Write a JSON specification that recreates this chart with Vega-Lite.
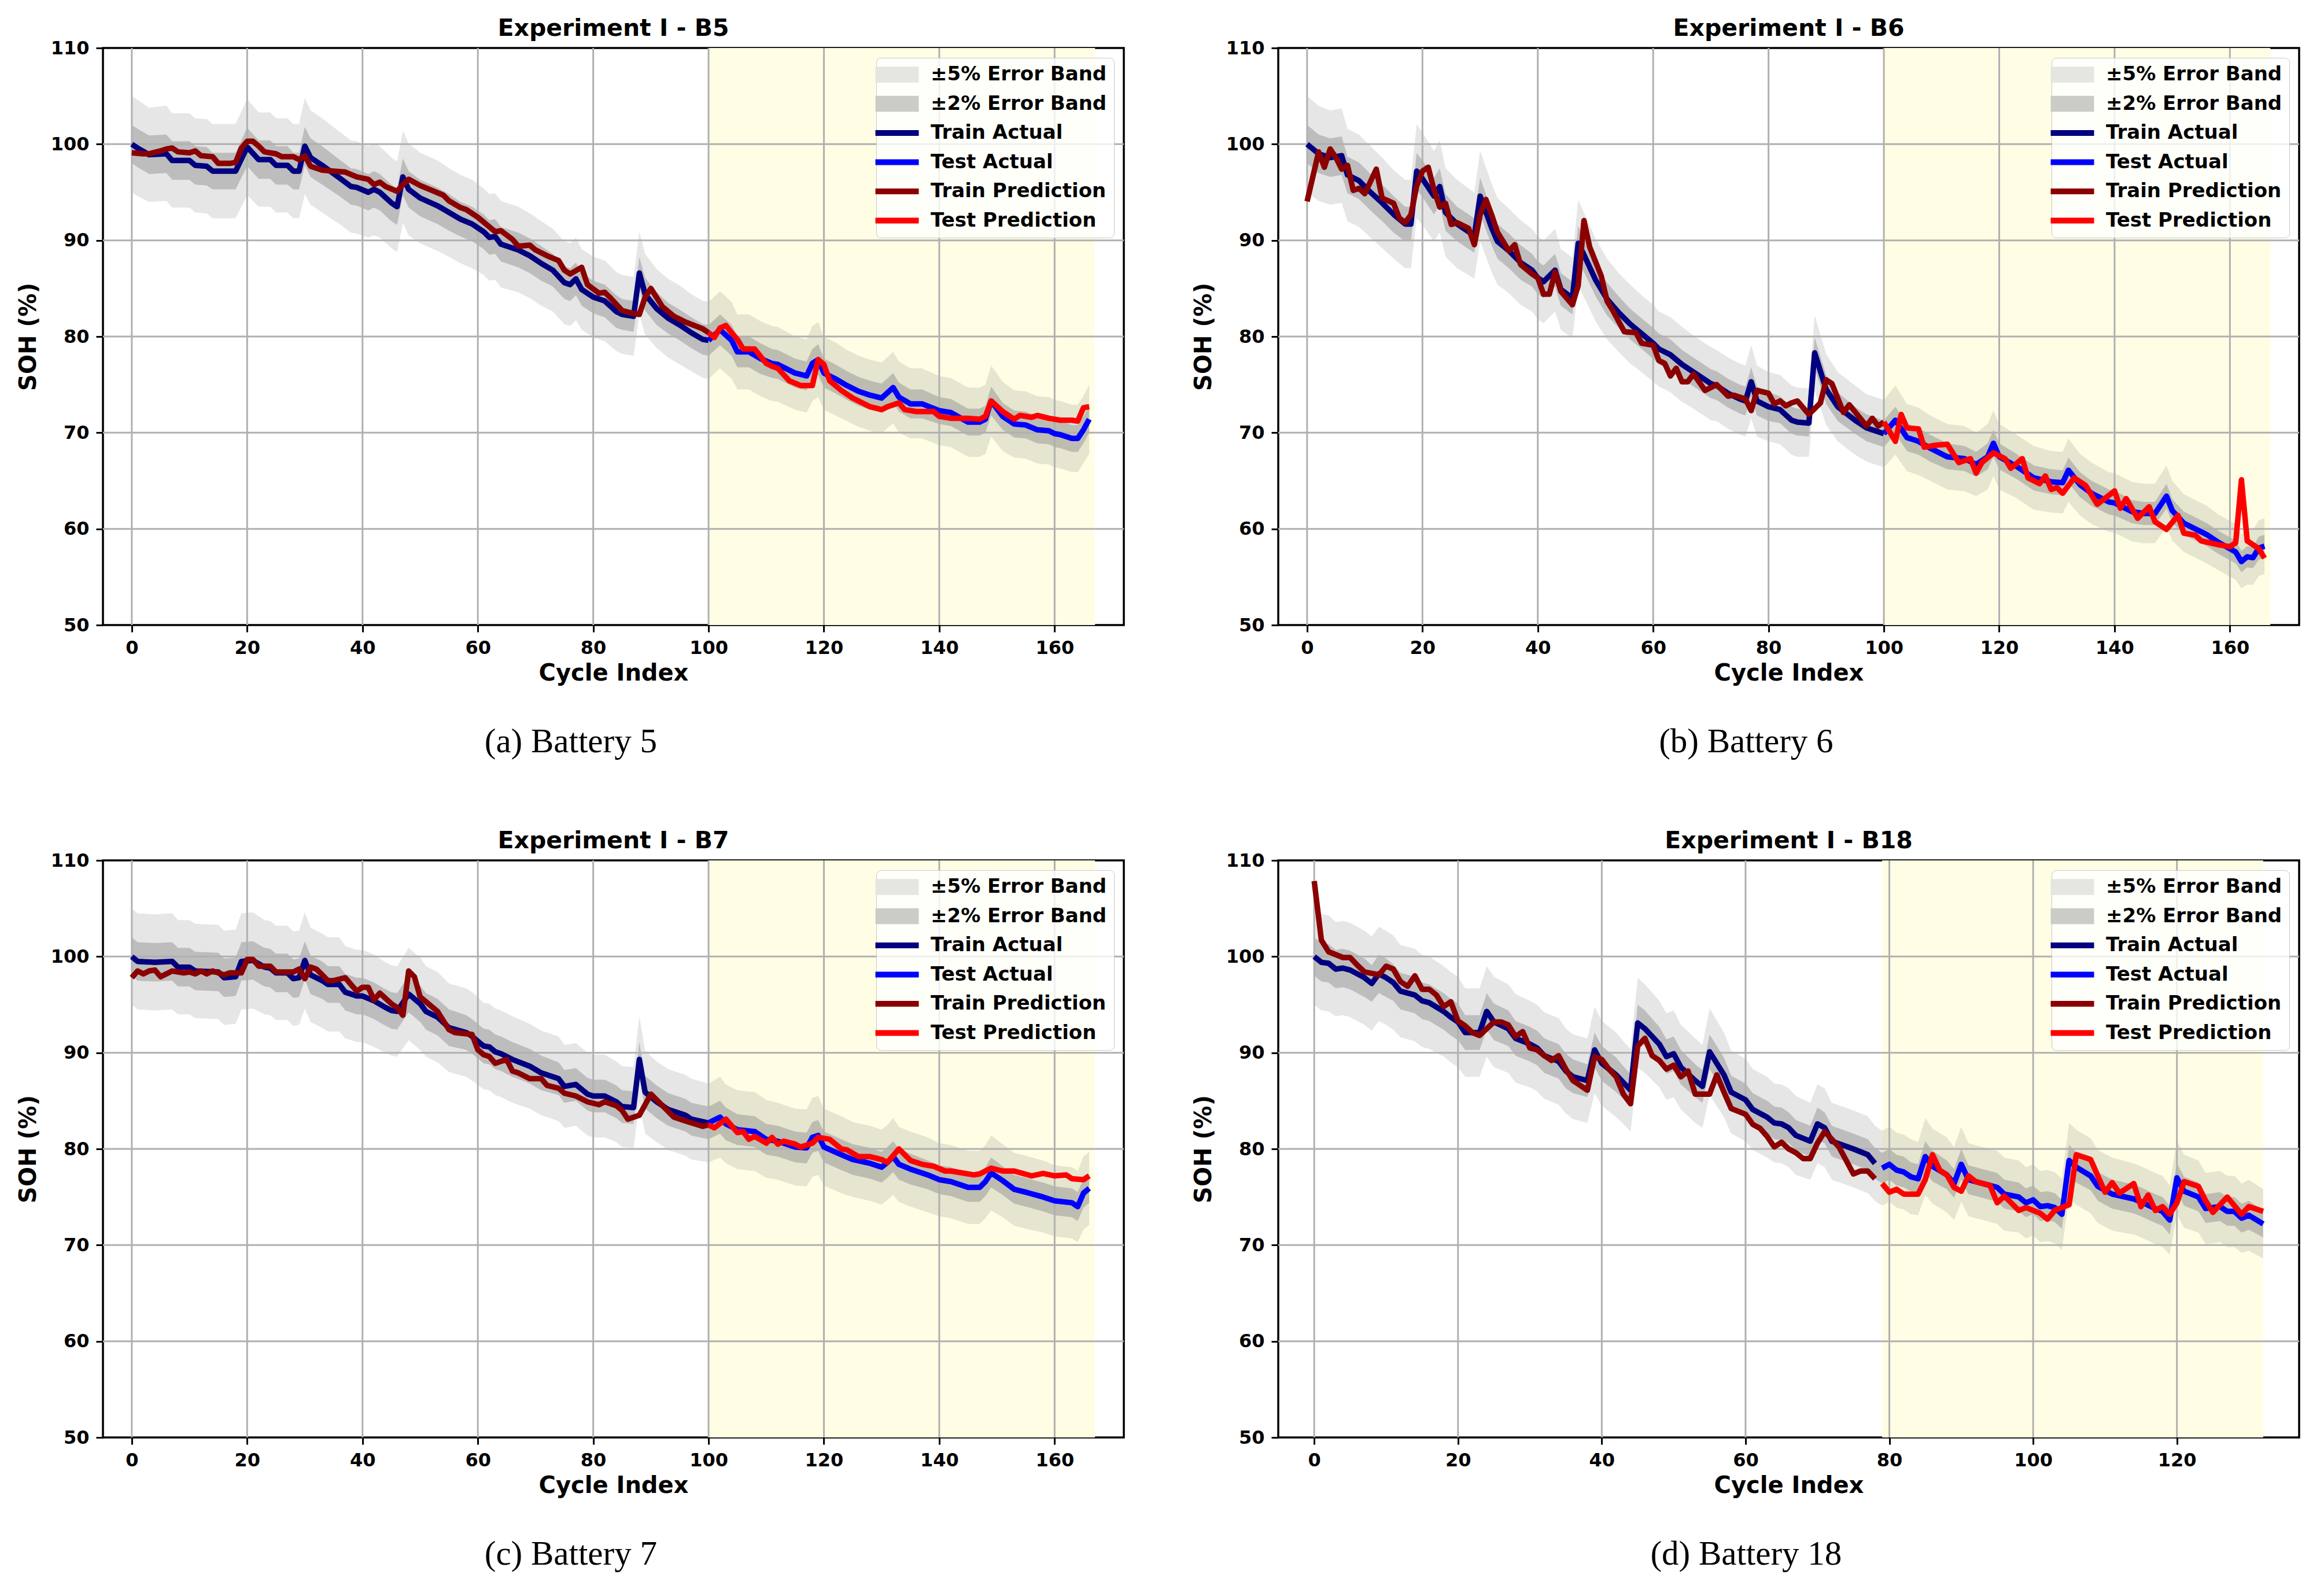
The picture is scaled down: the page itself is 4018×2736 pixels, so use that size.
{
  "$schema": "https://vega.github.io/schema/vega-lite/v6.json",
  "background": "white",
  "padding": {"left": 27, "top": 27, "right": 20, "bottom": 10},
  "config": {
    "view": {"stroke": "black", "strokeWidth": 3.5},
    "axis": {
      "grid": false, "domain": false,
      "labelFont": "DejaVu Sans", "labelFontWeight": "bold", "labelFontSize": 32, "labelColor": "black",
      "titleFont": "DejaVu Sans", "titleFontWeight": "bold", "titleFontSize": 40, "titleColor": "black",
      "tickColor": "black", "tickWidth": 3, "tickSize": 12, "labelPadding": 12
    },
    "title": {"font": "DejaVu Sans", "fontWeight": "bold", "fontSize": 41, "color": "black", "offset": -4, "anchor": "middle"},
    "legend": {
      "orient": "top-right", "offset": 17,
      "labelFont": "DejaVu Sans", "labelFontWeight": "bold", "labelFontSize": 34, "labelColor": "black",
      "rowPadding": 16.5, "padding": 12, "symbolStrokeWidth": 0,
      "fillColor": "rgba(255,255,255,0.8)", "strokeColor": "#c8c8c8", "cornerRadius": 8
    }
  },
  "datasets": {
    "gx": [{"g": 0}, {"g": 20}, {"g": 40}, {"g": 60}, {"g": 80}, {"g": 100}, {"g": 120}, {"g": 140}, {"g": 160}],
    "gx18": [{"g": 0}, {"g": 20}, {"g": 40}, {"g": 60}, {"g": 80}, {"g": 100}, {"g": 120}],
    "gy": [{"g": 60}, {"g": 70}, {"g": 80}, {"g": 90}, {"g": 100}],
    "b5": [
      {"c":0,"s":"Train Actual","v":100,"lo5":95,"hi5":105,"lo2":98,"hi2":102},
      {"c":1,"s":"Train Actual","v":99.6,"lo5":94.6,"hi5":104.6,"lo2":97.6,"hi2":101.6},
      {"c":3,"s":"Train Actual","v":98.9,"lo5":94,"hi5":103.8,"lo2":96.9,"hi2":100.9},
      {"c":6,"s":"Train Actual","v":99,"lo5":94.1,"hi5":104,"lo2":97,"hi2":101},
      {"c":7,"s":"Train Actual","v":98.3,"lo5":93.4,"hi5":103.2,"lo2":96.3,"hi2":100.3},
      {"c":10,"s":"Train Actual","v":98.3,"lo5":93.4,"hi5":103.2,"lo2":96.3,"hi2":100.3},
      {"c":11,"s":"Train Actual","v":97.8,"lo5":92.9,"hi5":102.7,"lo2":95.8,"hi2":99.8},
      {"c":13,"s":"Train Actual","v":97.7,"lo5":92.8,"hi5":102.6,"lo2":95.7,"hi2":99.7},
      {"c":14,"s":"Train Actual","v":97.2,"lo5":92.3,"hi5":102.1,"lo2":95.3,"hi2":99.1},
      {"c":18,"s":"Train Actual","v":97.2,"lo5":92.3,"hi5":102.1,"lo2":95.3,"hi2":99.1},
      {"c":20,"s":"Train Actual","v":99.7,"lo5":94.7,"hi5":104.7,"lo2":97.7,"hi2":101.7},
      {"c":22,"s":"Train Actual","v":98.4,"lo5":93.5,"hi5":103.3,"lo2":96.4,"hi2":100.4},
      {"c":24,"s":"Train Actual","v":98.4,"lo5":93.5,"hi5":103.3,"lo2":96.4,"hi2":100.4},
      {"c":25,"s":"Train Actual","v":97.8,"lo5":92.9,"hi5":102.7,"lo2":95.8,"hi2":99.8},
      {"c":27,"s":"Train Actual","v":97.8,"lo5":92.9,"hi5":102.7,"lo2":95.8,"hi2":99.8},
      {"c":28,"s":"Train Actual","v":97.2,"lo5":92.3,"hi5":102.1,"lo2":95.3,"hi2":99.1},
      {"c":29,"s":"Train Actual","v":97.2,"lo5":92.3,"hi5":102.1,"lo2":95.3,"hi2":99.1},
      {"c":30,"s":"Train Actual","v":99.8,"lo5":94.8,"hi5":104.8,"lo2":97.8,"hi2":101.8},
      {"c":31,"s":"Train Actual","v":98.6,"lo5":93.7,"hi5":103.5,"lo2":96.6,"hi2":100.6},
      {"c":33,"s":"Train Actual","v":97.8,"lo5":92.9,"hi5":102.7,"lo2":95.8,"hi2":99.8},
      {"c":36,"s":"Train Actual","v":96.5,"lo5":91.7,"hi5":101.3,"lo2":94.6,"hi2":98.4},
      {"c":38,"s":"Train Actual","v":95.6,"lo5":90.8,"hi5":100.4,"lo2":93.7,"hi2":97.5},
      {"c":39,"s":"Train Actual","v":95.5,"lo5":90.7,"hi5":100.3,"lo2":93.6,"hi2":97.4},
      {"c":41,"s":"Train Actual","v":95,"lo5":90.3,"hi5":99.8,"lo2":93.1,"hi2":96.9},
      {"c":42,"s":"Train Actual","v":95.3,"lo5":90.5,"hi5":100.1,"lo2":93.4,"hi2":97.2},
      {"c":43,"s":"Train Actual","v":95,"lo5":90.3,"hi5":99.8,"lo2":93.1,"hi2":96.9},
      {"c":45,"s":"Train Actual","v":93.9,"lo5":89.2,"hi5":98.6,"lo2":92,"hi2":95.8},
      {"c":46,"s":"Train Actual","v":93.5,"lo5":88.8,"hi5":98.2,"lo2":91.6,"hi2":95.4},
      {"c":47,"s":"Train Actual","v":96.6,"lo5":91.8,"hi5":101.4,"lo2":94.7,"hi2":98.5},
      {"c":48,"s":"Train Actual","v":95.3,"lo5":90.5,"hi5":100.1,"lo2":93.4,"hi2":97.2},
      {"c":50,"s":"Train Actual","v":94.4,"lo5":89.7,"hi5":99.1,"lo2":92.5,"hi2":96.3},
      {"c":53,"s":"Train Actual","v":93.6,"lo5":88.9,"hi5":98.3,"lo2":91.7,"hi2":95.5},
      {"c":55,"s":"Train Actual","v":92.9,"lo5":88.3,"hi5":97.5,"lo2":91,"hi2":94.8},
      {"c":57,"s":"Train Actual","v":92.2,"lo5":87.6,"hi5":96.8,"lo2":90.4,"hi2":94},
      {"c":59,"s":"Train Actual","v":91.7,"lo5":87.1,"hi5":96.3,"lo2":89.9,"hi2":93.5},
      {"c":61,"s":"Train Actual","v":90.9,"lo5":86.4,"hi5":95.4,"lo2":89.1,"hi2":92.7},
      {"c":62,"s":"Train Actual","v":90.3,"lo5":85.8,"hi5":94.8,"lo2":88.5,"hi2":92.1},
      {"c":63,"s":"Train Actual","v":90.4,"lo5":85.9,"hi5":94.9,"lo2":88.6,"hi2":92.2},
      {"c":64,"s":"Train Actual","v":89.6,"lo5":85.1,"hi5":94.1,"lo2":87.8,"hi2":91.4},
      {"c":67,"s":"Train Actual","v":89,"lo5":84.6,"hi5":93.5,"lo2":87.2,"hi2":90.8},
      {"c":69,"s":"Train Actual","v":88.4,"lo5":84,"hi5":92.8,"lo2":86.6,"hi2":90.2},
      {"c":71,"s":"Train Actual","v":87.6,"lo5":83.2,"hi5":92,"lo2":85.8,"hi2":89.4},
      {"c":73,"s":"Train Actual","v":86.9,"lo5":82.6,"hi5":91.2,"lo2":85.2,"hi2":88.6},
      {"c":75,"s":"Train Actual","v":85.6,"lo5":81.3,"hi5":89.9,"lo2":83.9,"hi2":87.3},
      {"c":76,"s":"Train Actual","v":85.4,"lo5":81.1,"hi5":89.7,"lo2":83.7,"hi2":87.1},
      {"c":77,"s":"Train Actual","v":86,"lo5":81.7,"hi5":90.3,"lo2":84.3,"hi2":87.7},
      {"c":78,"s":"Train Actual","v":84.9,"lo5":80.7,"hi5":89.1,"lo2":83.2,"hi2":86.6},
      {"c":80,"s":"Train Actual","v":84.1,"lo5":79.9,"hi5":88.3,"lo2":82.4,"hi2":85.8},
      {"c":82,"s":"Train Actual","v":83.7,"lo5":79.5,"hi5":87.9,"lo2":82,"hi2":85.4},
      {"c":84,"s":"Train Actual","v":82.6,"lo5":78.5,"hi5":86.7,"lo2":80.9,"hi2":84.3},
      {"c":85,"s":"Train Actual","v":82.3,"lo5":78.2,"hi5":86.4,"lo2":80.7,"hi2":83.9},
      {"c":87,"s":"Train Actual","v":82.1,"lo5":78,"hi5":86.2,"lo2":80.5,"hi2":83.7},
      {"c":88,"s":"Train Actual","v":86.6,"lo5":82.3,"hi5":90.9,"lo2":84.9,"hi2":88.3},
      {"c":89,"s":"Train Actual","v":84.4,"lo5":80.2,"hi5":88.6,"lo2":82.7,"hi2":86.1},
      {"c":91,"s":"Train Actual","v":82.9,"lo5":78.8,"hi5":87,"lo2":81.2,"hi2":84.6},
      {"c":93,"s":"Train Actual","v":81.9,"lo5":77.8,"hi5":86,"lo2":80.3,"hi2":83.5},
      {"c":95,"s":"Train Actual","v":81.2,"lo5":77.1,"hi5":85.3,"lo2":79.6,"hi2":82.8},
      {"c":97,"s":"Train Actual","v":80.4,"lo5":76.4,"hi5":84.4,"lo2":78.8,"hi2":82},
      {"c":99,"s":"Train Actual","v":79.7,"lo5":75.7,"hi5":83.7,"lo2":78.1,"hi2":81.3},
      {"c":100,"s":"Train Actual","v":79.6},
      {"c":100,"s":"Test Actual","v":79.6,"lo5":75.6,"hi5":83.6,"lo2":78,"hi2":81.2},
      {"c":102,"s":"Test Actual","v":80.7,"lo5":76.7,"hi5":84.7,"lo2":79.1,"hi2":82.3},
      {"c":104,"s":"Test Actual","v":79.6,"lo5":75.6,"hi5":83.6,"lo2":78,"hi2":81.2},
      {"c":105,"s":"Test Actual","v":78.4,"lo5":74.5,"hi5":82.3,"lo2":76.8,"hi2":80},
      {"c":107,"s":"Test Actual","v":78.4,"lo5":74.5,"hi5":82.3,"lo2":76.8,"hi2":80},
      {"c":109,"s":"Test Actual","v":77.7,"lo5":73.8,"hi5":81.6,"lo2":76.1,"hi2":79.3},
      {"c":111,"s":"Test Actual","v":77.2,"lo5":73.3,"hi5":81.1,"lo2":75.7,"hi2":78.7},
      {"c":112,"s":"Test Actual","v":77.1,"lo5":73.2,"hi5":81,"lo2":75.6,"hi2":78.6},
      {"c":115,"s":"Test Actual","v":76.2,"lo5":72.4,"hi5":80,"lo2":74.7,"hi2":77.7},
      {"c":117,"s":"Test Actual","v":75.9,"lo5":72.1,"hi5":79.7,"lo2":74.4,"hi2":77.4},
      {"c":118,"s":"Test Actual","v":77.2,"lo5":73.3,"hi5":81.1,"lo2":75.7,"hi2":78.7},
      {"c":119,"s":"Test Actual","v":77.6,"lo5":73.7,"hi5":81.5,"lo2":76,"hi2":79.2},
      {"c":120,"s":"Test Actual","v":76.2,"lo5":72.4,"hi5":80,"lo2":74.7,"hi2":77.7},
      {"c":122,"s":"Test Actual","v":75.6,"lo5":71.8,"hi5":79.4,"lo2":74.1,"hi2":77.1},
      {"c":124,"s":"Test Actual","v":74.9,"lo5":71.2,"hi5":78.6,"lo2":73.4,"hi2":76.4},
      {"c":126,"s":"Test Actual","v":74.3,"lo5":70.6,"hi5":78,"lo2":72.8,"hi2":75.8},
      {"c":128,"s":"Test Actual","v":73.9,"lo5":70.2,"hi5":77.6,"lo2":72.4,"hi2":75.4},
      {"c":130,"s":"Test Actual","v":73.6,"lo5":69.9,"hi5":77.3,"lo2":72.1,"hi2":75.1},
      {"c":132,"s":"Test Actual","v":74.7,"lo5":71,"hi5":78.4,"lo2":73.2,"hi2":76.2},
      {"c":133,"s":"Test Actual","v":73.7,"lo5":70,"hi5":77.4,"lo2":72.2,"hi2":75.2},
      {"c":135,"s":"Test Actual","v":73,"lo5":69.4,"hi5":76.7,"lo2":71.5,"hi2":74.5},
      {"c":137,"s":"Test Actual","v":73,"lo5":69.4,"hi5":76.7,"lo2":71.5,"hi2":74.5},
      {"c":140,"s":"Test Actual","v":72.3,"lo5":68.7,"hi5":75.9,"lo2":70.9,"hi2":73.7},
      {"c":142,"s":"Test Actual","v":72.1,"lo5":68.5,"hi5":75.7,"lo2":70.7,"hi2":73.5},
      {"c":145,"s":"Test Actual","v":71.1,"lo5":67.5,"hi5":74.7,"lo2":69.7,"hi2":72.5},
      {"c":147,"s":"Test Actual","v":71.1,"lo5":67.5,"hi5":74.7,"lo2":69.7,"hi2":72.5},
      {"c":148,"s":"Test Actual","v":71.4,"lo5":67.8,"hi5":75,"lo2":70,"hi2":72.8},
      {"c":149,"s":"Test Actual","v":73.3,"lo5":69.6,"hi5":77,"lo2":71.8,"hi2":74.8},
      {"c":151,"s":"Test Actual","v":71.7,"lo5":68.1,"hi5":75.3,"lo2":70.3,"hi2":73.1},
      {"c":153,"s":"Test Actual","v":70.9,"lo5":67.4,"hi5":74.4,"lo2":69.5,"hi2":72.3},
      {"c":155,"s":"Test Actual","v":70.8,"lo5":67.3,"hi5":74.3,"lo2":69.4,"hi2":72.2},
      {"c":157,"s":"Test Actual","v":70.3,"lo5":66.8,"hi5":73.8,"lo2":68.9,"hi2":71.7},
      {"c":159,"s":"Test Actual","v":70.2,"lo5":66.7,"hi5":73.7,"lo2":68.8,"hi2":71.6},
      {"c":160,"s":"Test Actual","v":69.9,"lo5":66.4,"hi5":73.4,"lo2":68.5,"hi2":71.3},
      {"c":161,"s":"Test Actual","v":69.8,"lo5":66.3,"hi5":73.3,"lo2":68.4,"hi2":71.2},
      {"c":163,"s":"Test Actual","v":69.4,"lo5":65.9,"hi5":72.9,"lo2":68,"hi2":70.8},
      {"c":164,"s":"Test Actual","v":69.4,"lo5":65.9,"hi5":72.9,"lo2":68,"hi2":70.8},
      {"c":165,"s":"Test Actual","v":70.3,"lo5":66.8,"hi5":73.8,"lo2":68.9,"hi2":71.7},
      {"c":166,"s":"Test Actual","v":71.4,"lo5":67.8,"hi5":75,"lo2":70,"hi2":72.8},
      {"c":0,"s":"Train Prediction","v":99.1},{"c":2,"s":"Train Prediction","v":99},{"c":3,"s":"Train Prediction","v":99},
      {"c":5,"s":"Train Prediction","v":99.3},{"c":6,"s":"Train Prediction","v":99.5},{"c":7,"s":"Train Prediction","v":99.6},
      {"c":8,"s":"Train Prediction","v":99.2},{"c":10,"s":"Train Prediction","v":99.1},{"c":11,"s":"Train Prediction","v":99.3},
      {"c":12,"s":"Train Prediction","v":98.8},{"c":14,"s":"Train Prediction","v":98.7},{"c":15,"s":"Train Prediction","v":98},
      {"c":17,"s":"Train Prediction","v":98},{"c":18,"s":"Train Prediction","v":98.1},{"c":19,"s":"Train Prediction","v":99.6},
      {"c":20,"s":"Train Prediction","v":100.3},{"c":21,"s":"Train Prediction","v":100.3},{"c":22,"s":"Train Prediction","v":99.8},
      {"c":23,"s":"Train Prediction","v":99.2},{"c":25,"s":"Train Prediction","v":99},{"c":26,"s":"Train Prediction","v":98.7},
      {"c":28,"s":"Train Prediction","v":98.7},{"c":29,"s":"Train Prediction","v":98.4},{"c":30,"s":"Train Prediction","v":98.8},
      {"c":31,"s":"Train Prediction","v":97.7},{"c":33,"s":"Train Prediction","v":97.3},{"c":35,"s":"Train Prediction","v":97.2},
      {"c":37,"s":"Train Prediction","v":97.1},{"c":39,"s":"Train Prediction","v":96.6},{"c":41,"s":"Train Prediction","v":96.35},
      {"c":42,"s":"Train Prediction","v":95.8},{"c":43,"s":"Train Prediction","v":96.05},{"c":44,"s":"Train Prediction","v":95.6},
      {"c":46,"s":"Train Prediction","v":95.1},{"c":47,"s":"Train Prediction","v":95.8},{"c":48,"s":"Train Prediction","v":96.35},
      {"c":50,"s":"Train Prediction","v":95.7},{"c":52,"s":"Train Prediction","v":95.2},{"c":54,"s":"Train Prediction","v":94.7},
      {"c":55,"s":"Train Prediction","v":94.1},{"c":57,"s":"Train Prediction","v":93.4},{"c":58,"s":"Train Prediction","v":93.2},
      {"c":60,"s":"Train Prediction","v":92.4},{"c":62,"s":"Train Prediction","v":91.4},{"c":63,"s":"Train Prediction","v":90.9},
      {"c":64,"s":"Train Prediction","v":91},{"c":66,"s":"Train Prediction","v":90.1},{"c":67,"s":"Train Prediction","v":89.4},
      {"c":69,"s":"Train Prediction","v":89.5},{"c":70,"s":"Train Prediction","v":89},{"c":72,"s":"Train Prediction","v":88.4},
      {"c":74,"s":"Train Prediction","v":87.9},{"c":75,"s":"Train Prediction","v":86.9},{"c":76,"s":"Train Prediction","v":86.5},
      {"c":78,"s":"Train Prediction","v":87.2},{"c":79,"s":"Train Prediction","v":85.4},{"c":81,"s":"Train Prediction","v":84.5},
      {"c":82,"s":"Train Prediction","v":84.6},{"c":83,"s":"Train Prediction","v":84},{"c":85,"s":"Train Prediction","v":82.7},
      {"c":87,"s":"Train Prediction","v":82.4},{"c":88,"s":"Train Prediction","v":82.3},{"c":89,"s":"Train Prediction","v":84.1},
      {"c":90,"s":"Train Prediction","v":85},{"c":92,"s":"Train Prediction","v":83.1},{"c":94,"s":"Train Prediction","v":82.1},
      {"c":96,"s":"Train Prediction","v":81.5},{"c":99,"s":"Train Prediction","v":80.8},{"c":100,"s":"Train Prediction","v":80.4},
      {"c":100,"s":"Test Prediction","v":80.4},{"c":101,"s":"Test Prediction","v":79.9},{"c":102,"s":"Test Prediction","v":80.9},
      {"c":103,"s":"Test Prediction","v":81.15},{"c":104,"s":"Test Prediction","v":80.4},{"c":105,"s":"Test Prediction","v":79.7},
      {"c":106,"s":"Test Prediction","v":78.7},{"c":108,"s":"Test Prediction","v":78.7},{"c":110,"s":"Test Prediction","v":77.2},
      {"c":111,"s":"Test Prediction","v":76.9},{"c":112,"s":"Test Prediction","v":76.7},{"c":114,"s":"Test Prediction","v":75.4},
      {"c":116,"s":"Test Prediction","v":74.9},{"c":118,"s":"Test Prediction","v":74.9},{"c":119,"s":"Test Prediction","v":77.6},
      {"c":120,"s":"Test Prediction","v":77.1},{"c":121,"s":"Test Prediction","v":75.4},{"c":123,"s":"Test Prediction","v":74.4},
      {"c":125,"s":"Test Prediction","v":73.6},{"c":126,"s":"Test Prediction","v":73.3},{"c":128,"s":"Test Prediction","v":72.7},
      {"c":130,"s":"Test Prediction","v":72.4},{"c":131,"s":"Test Prediction","v":72.7},{"c":133,"s":"Test Prediction","v":73.1},
      {"c":134,"s":"Test Prediction","v":72.4},{"c":136,"s":"Test Prediction","v":72.2},{"c":139,"s":"Test Prediction","v":72.2},
      {"c":140,"s":"Test Prediction","v":71.7},{"c":142,"s":"Test Prediction","v":71.5},{"c":145,"s":"Test Prediction","v":71.5},
      {"c":147,"s":"Test Prediction","v":71.4},{"c":148,"s":"Test Prediction","v":71.7},{"c":149,"s":"Test Prediction","v":73.3},
      {"c":151,"s":"Test Prediction","v":72.2},{"c":153,"s":"Test Prediction","v":71.4},{"c":154,"s":"Test Prediction","v":71.8},
      {"c":156,"s":"Test Prediction","v":71.6},{"c":157,"s":"Test Prediction","v":71.8},{"c":159,"s":"Test Prediction","v":71.5},
      {"c":161,"s":"Test Prediction","v":71.3},{"c":163,"s":"Test Prediction","v":71.3},{"c":164,"s":"Test Prediction","v":71.2},
      {"c":165,"s":"Test Prediction","v":72.6},{"c":166,"s":"Test Prediction","v":72.7}
    ],
    "b6": [
      {"c":0,"s":"Train Actual","v":100,"lo5":95,"hi5":105,"lo2":98,"hi2":102},
      {"c":2,"s":"Train Actual","v":99,"lo5":94.1,"hi5":104,"lo2":97,"hi2":101},
      {"c":4,"s":"Train Actual","v":98.6,"lo5":93.7,"hi5":103.5,"lo2":96.6,"hi2":100.6},
      {"c":6,"s":"Train Actual","v":98.8,"lo5":93.9,"hi5":103.7,"lo2":96.8,"hi2":100.8},
      {"c":7,"s":"Train Actual","v":96.8,"lo5":92,"hi5":101.6,"lo2":94.9,"hi2":98.7},
      {"c":9,"s":"Train Actual","v":96.2,"lo5":91.4,"hi5":101,"lo2":94.3,"hi2":98.1},
      {"c":11,"s":"Train Actual","v":95,"lo5":90.3,"hi5":99.8,"lo2":93.1,"hi2":96.9},
      {"c":13,"s":"Train Actual","v":93.9,"lo5":89.2,"hi5":98.6,"lo2":92,"hi2":95.8},
      {"c":15,"s":"Train Actual","v":92.7,"lo5":88.1,"hi5":97.3,"lo2":90.8,"hi2":94.6},
      {"c":17,"s":"Train Actual","v":91.7,"lo5":87.1,"hi5":96.3,"lo2":89.9,"hi2":93.5},
      {"c":18,"s":"Train Actual","v":91.7,"lo5":87.1,"hi5":96.3,"lo2":89.9,"hi2":93.5},
      {"c":19,"s":"Train Actual","v":97.2,"lo5":92.3,"hi5":102.1,"lo2":95.3,"hi2":99.1},
      {"c":20,"s":"Train Actual","v":96.4,"lo5":91.6,"hi5":101.2,"lo2":94.5,"hi2":98.3},
      {"c":22,"s":"Train Actual","v":94.6,"lo5":89.9,"hi5":99.3,"lo2":92.7,"hi2":96.5},
      {"c":23,"s":"Train Actual","v":95.6,"lo5":90.8,"hi5":100.4,"lo2":93.7,"hi2":97.5},
      {"c":24,"s":"Train Actual","v":92.9,"lo5":88.3,"hi5":97.5,"lo2":91,"hi2":94.8},
      {"c":26,"s":"Train Actual","v":91.7,"lo5":87.1,"hi5":96.3,"lo2":89.9,"hi2":93.5},
      {"c":28,"s":"Train Actual","v":90.9,"lo5":86.4,"hi5":95.4,"lo2":89.1,"hi2":92.7},
      {"c":29,"s":"Train Actual","v":90.5,"lo5":86,"hi5":95,"lo2":88.7,"hi2":92.3},
      {"c":30,"s":"Train Actual","v":94.6,"lo5":89.9,"hi5":99.3,"lo2":92.7,"hi2":96.5},
      {"c":32,"s":"Train Actual","v":91.3,"lo5":86.7,"hi5":95.9,"lo2":89.5,"hi2":93.1},
      {"c":33,"s":"Train Actual","v":89.9,"lo5":85.4,"hi5":94.4,"lo2":88.1,"hi2":91.7},
      {"c":35,"s":"Train Actual","v":88.9,"lo5":84.5,"hi5":93.3,"lo2":87.1,"hi2":90.7},
      {"c":37,"s":"Train Actual","v":87.7,"lo5":83.3,"hi5":92.1,"lo2":85.9,"hi2":89.5},
      {"c":39,"s":"Train Actual","v":86.9,"lo5":82.6,"hi5":91.2,"lo2":85.2,"hi2":88.6},
      {"c":40,"s":"Train Actual","v":86.1,"lo5":81.8,"hi5":90.4,"lo2":84.4,"hi2":87.8},
      {"c":41,"s":"Train Actual","v":85.7,"lo5":81.4,"hi5":90,"lo2":84,"hi2":87.4},
      {"c":43,"s":"Train Actual","v":86.9,"lo5":82.6,"hi5":91.2,"lo2":85.2,"hi2":88.6},
      {"c":44,"s":"Train Actual","v":84.9,"lo5":80.7,"hi5":89.1,"lo2":83.2,"hi2":86.6},
      {"c":46,"s":"Train Actual","v":84,"lo5":79.8,"hi5":88.2,"lo2":82.3,"hi2":85.7},
      {"c":47,"s":"Train Actual","v":89.7,"lo5":85.2,"hi5":94.2,"lo2":87.9,"hi2":91.5},
      {"c":48,"s":"Train Actual","v":88.5,"lo5":84.1,"hi5":92.9,"lo2":86.7,"hi2":90.3},
      {"c":50,"s":"Train Actual","v":85.9,"lo5":81.6,"hi5":90.2,"lo2":84.2,"hi2":87.6},
      {"c":52,"s":"Train Actual","v":83.9,"lo5":79.7,"hi5":88.1,"lo2":82.2,"hi2":85.6},
      {"c":54,"s":"Train Actual","v":82.5,"lo5":78.4,"hi5":86.6,"lo2":80.9,"hi2":84.2},
      {"c":56,"s":"Train Actual","v":81.3,"lo5":77.2,"hi5":85.4,"lo2":79.7,"hi2":82.9},
      {"c":58,"s":"Train Actual","v":80.3,"lo5":76.3,"hi5":84.3,"lo2":78.7,"hi2":81.9},
      {"c":60,"s":"Train Actual","v":79.3,"lo5":75.3,"hi5":83.3,"lo2":77.7,"hi2":80.9},
      {"c":61,"s":"Train Actual","v":78.7,"lo5":74.8,"hi5":82.6,"lo2":77.1,"hi2":80.3},
      {"c":63,"s":"Train Actual","v":78.1,"lo5":74.2,"hi5":82,"lo2":76.5,"hi2":79.7},
      {"c":65,"s":"Train Actual","v":77.1,"lo5":73.2,"hi5":81,"lo2":75.6,"hi2":78.6},
      {"c":67,"s":"Train Actual","v":76.3,"lo5":72.5,"hi5":80.1,"lo2":74.8,"hi2":77.8},
      {"c":70,"s":"Train Actual","v":75.1,"lo5":71.3,"hi5":78.9,"lo2":73.6,"hi2":76.6},
      {"c":71,"s":"Train Actual","v":74.9,"lo5":71.2,"hi5":78.6,"lo2":73.4,"hi2":76.4},
      {"c":73,"s":"Train Actual","v":74.1,"lo5":70.4,"hi5":77.8,"lo2":72.6,"hi2":75.6},
      {"c":75,"s":"Train Actual","v":73.5,"lo5":69.8,"hi5":77.2,"lo2":72,"hi2":75},
      {"c":76,"s":"Train Actual","v":73.3,"lo5":69.6,"hi5":77,"lo2":71.8,"hi2":74.8},
      {"c":77,"s":"Train Actual","v":75.3,"lo5":71.5,"hi5":79.1,"lo2":73.8,"hi2":76.8},
      {"c":78,"s":"Train Actual","v":73.3,"lo5":69.6,"hi5":77,"lo2":71.8,"hi2":74.8},
      {"c":80,"s":"Train Actual","v":72.7,"lo5":69.1,"hi5":76.3,"lo2":71.2,"hi2":74.2},
      {"c":82,"s":"Train Actual","v":72.4,"lo5":68.8,"hi5":76,"lo2":71,"hi2":73.8},
      {"c":84,"s":"Train Actual","v":71.3,"lo5":67.7,"hi5":74.9,"lo2":69.9,"hi2":72.7},
      {"c":85,"s":"Train Actual","v":71.1,"lo5":67.5,"hi5":74.7,"lo2":69.7,"hi2":72.5},
      {"c":87,"s":"Train Actual","v":71,"lo5":67.5,"hi5":74.6,"lo2":69.6,"hi2":72.4},
      {"c":88,"s":"Train Actual","v":78.3,"lo5":74.4,"hi5":82.2,"lo2":76.7,"hi2":79.9},
      {"c":90,"s":"Train Actual","v":74.5,"lo5":70.8,"hi5":78.2,"lo2":73,"hi2":76},
      {"c":92,"s":"Train Actual","v":72.7,"lo5":69.1,"hi5":76.3,"lo2":71.2,"hi2":74.2},
      {"c":95,"s":"Train Actual","v":71.3,"lo5":67.7,"hi5":74.9,"lo2":69.9,"hi2":72.7},
      {"c":97,"s":"Train Actual","v":70.5,"lo5":67,"hi5":74,"lo2":69.1,"hi2":71.9},
      {"c":100,"s":"Train Actual","v":69.9},
      {"c":100,"s":"Test Actual","v":69.9,"lo5":66.4,"hi5":73.4,"lo2":68.5,"hi2":71.3},
      {"c":102,"s":"Test Actual","v":71.3,"lo5":67.7,"hi5":74.9,"lo2":69.9,"hi2":72.7},
      {"c":104,"s":"Test Actual","v":69.5,"lo5":66,"hi5":73,"lo2":68.1,"hi2":70.9},
      {"c":106,"s":"Test Actual","v":69.1,"lo5":65.6,"hi5":72.6,"lo2":67.7,"hi2":70.5},
      {"c":108,"s":"Test Actual","v":68.4,"lo5":65,"hi5":71.8,"lo2":67,"hi2":69.8},
      {"c":111,"s":"Test Actual","v":67.5,"lo5":64.1,"hi5":70.9,"lo2":66.2,"hi2":68.9},
      {"c":114,"s":"Test Actual","v":67.3,"lo5":63.9,"hi5":70.7,"lo2":66,"hi2":68.6},
      {"c":116,"s":"Test Actual","v":66.7,"lo5":63.4,"hi5":70,"lo2":65.4,"hi2":68},
      {"c":118,"s":"Test Actual","v":67.5,"lo5":64.1,"hi5":70.9,"lo2":66.2,"hi2":68.9},
      {"c":119,"s":"Test Actual","v":68.9,"lo5":65.5,"hi5":72.3,"lo2":67.5,"hi2":70.3},
      {"c":120,"s":"Test Actual","v":67.5,"lo5":64.1,"hi5":70.9,"lo2":66.2,"hi2":68.9},
      {"c":123,"s":"Test Actual","v":66.5,"lo5":63.2,"hi5":69.8,"lo2":65.2,"hi2":67.8},
      {"c":126,"s":"Test Actual","v":65.3,"lo5":62,"hi5":68.6,"lo2":64,"hi2":66.6},
      {"c":129,"s":"Test Actual","v":64.9,"lo5":61.7,"hi5":68.1,"lo2":63.6,"hi2":66.2},
      {"c":131,"s":"Test Actual","v":64.8,"lo5":61.6,"hi5":68,"lo2":63.5,"hi2":66.1},
      {"c":132,"s":"Test Actual","v":66.1,"lo5":62.8,"hi5":69.4,"lo2":64.8,"hi2":67.4},
      {"c":134,"s":"Test Actual","v":64.6,"lo5":61.4,"hi5":67.8,"lo2":63.3,"hi2":65.9},
      {"c":136,"s":"Test Actual","v":63.7,"lo5":60.5,"hi5":66.9,"lo2":62.4,"hi2":65},
      {"c":139,"s":"Test Actual","v":62.8,"lo5":59.7,"hi5":65.9,"lo2":61.5,"hi2":64.1},
      {"c":140,"s":"Test Actual","v":62.7,"lo5":59.6,"hi5":65.8,"lo2":61.4,"hi2":64},
      {"c":143,"s":"Test Actual","v":61.8,"lo5":58.7,"hi5":64.9,"lo2":60.6,"hi2":63},
      {"c":145,"s":"Test Actual","v":61.6,"lo5":58.5,"hi5":64.7,"lo2":60.4,"hi2":62.8},
      {"c":147,"s":"Test Actual","v":61.6,"lo5":58.5,"hi5":64.7,"lo2":60.4,"hi2":62.8},
      {"c":149,"s":"Test Actual","v":63.4,"lo5":60.2,"hi5":66.6,"lo2":62.1,"hi2":64.7},
      {"c":150,"s":"Test Actual","v":61.9,"lo5":58.8,"hi5":65,"lo2":60.7,"hi2":63.1},
      {"c":152,"s":"Test Actual","v":60.6,"lo5":57.6,"hi5":63.6,"lo2":59.4,"hi2":61.8},
      {"c":154,"s":"Test Actual","v":60,"lo5":57,"hi5":63,"lo2":58.8,"hi2":61.2},
      {"c":156,"s":"Test Actual","v":59.4,"lo5":56.4,"hi5":62.4,"lo2":58.2,"hi2":60.6},
      {"c":158,"s":"Test Actual","v":58.6,"lo5":55.7,"hi5":61.5,"lo2":57.4,"hi2":59.8},
      {"c":161,"s":"Test Actual","v":57.6,"lo5":54.7,"hi5":60.5,"lo2":56.4,"hi2":58.8},
      {"c":162,"s":"Test Actual","v":56.6,"lo5":53.8,"hi5":59.4,"lo2":55.5,"hi2":57.7},
      {"c":163,"s":"Test Actual","v":57.1,"lo5":54.2,"hi5":60,"lo2":56,"hi2":58.2},
      {"c":164,"s":"Test Actual","v":57,"lo5":54.2,"hi5":59.9,"lo2":55.9,"hi2":58.1},
      {"c":165,"s":"Test Actual","v":58,"lo5":55.1,"hi5":60.9,"lo2":56.8,"hi2":59.2},
      {"c":166,"s":"Test Actual","v":58.2,"lo5":55.3,"hi5":61.1,"lo2":57,"hi2":59.4},
      {"c":0,"s":"Train Prediction","v":94.05},{"c":2,"s":"Train Prediction","v":99.2},{"c":3,"s":"Train Prediction","v":97.6},
      {"c":4,"s":"Train Prediction","v":99.5},{"c":5,"s":"Train Prediction","v":98.6},{"c":6,"s":"Train Prediction","v":97.4},
      {"c":7,"s":"Train Prediction","v":97.8},{"c":8,"s":"Train Prediction","v":95.2},{"c":9,"s":"Train Prediction","v":95.4},
      {"c":10,"s":"Train Prediction","v":94.85},{"c":12,"s":"Train Prediction","v":97.4},{"c":13,"s":"Train Prediction","v":94.4},
      {"c":15,"s":"Train Prediction","v":93.85},{"c":16,"s":"Train Prediction","v":92.3},{"c":17,"s":"Train Prediction","v":91.85},
      {"c":18,"s":"Train Prediction","v":92.65},{"c":19,"s":"Train Prediction","v":95.65},{"c":20,"s":"Train Prediction","v":97.2},
      {"c":21,"s":"Train Prediction","v":97.6},{"c":22,"s":"Train Prediction","v":95.25},{"c":23,"s":"Train Prediction","v":93.45},
      {"c":24,"s":"Train Prediction","v":93.85},{"c":25,"s":"Train Prediction","v":91.65},{"c":26,"s":"Train Prediction","v":91.85},
      {"c":28,"s":"Train Prediction","v":91.25},{"c":29,"s":"Train Prediction","v":89.55},{"c":30,"s":"Train Prediction","v":92.65},
      {"c":31,"s":"Train Prediction","v":94.25},{"c":32,"s":"Train Prediction","v":92.65},{"c":33,"s":"Train Prediction","v":90.85},
      {"c":35,"s":"Train Prediction","v":88.9},{"c":36,"s":"Train Prediction","v":89.55},{"c":37,"s":"Train Prediction","v":87.5},
      {"c":39,"s":"Train Prediction","v":86.5},{"c":40,"s":"Train Prediction","v":86.1},{"c":41,"s":"Train Prediction","v":84.4},
      {"c":42,"s":"Train Prediction","v":84.4},{"c":43,"s":"Train Prediction","v":86.7},{"c":44,"s":"Train Prediction","v":84.7},
      {"c":46,"s":"Train Prediction","v":83.3},{"c":47,"s":"Train Prediction","v":85.3},{"c":48,"s":"Train Prediction","v":92.05},
      {"c":49,"s":"Train Prediction","v":89.3},{"c":51,"s":"Train Prediction","v":86.3},{"c":52,"s":"Train Prediction","v":83.7},
      {"c":53,"s":"Train Prediction","v":82.7},{"c":55,"s":"Train Prediction","v":80.5},{"c":57,"s":"Train Prediction","v":80.4},
      {"c":58,"s":"Train Prediction","v":79.3},{"c":60,"s":"Train Prediction","v":79.1},{"c":61,"s":"Train Prediction","v":77.5},
      {"c":62,"s":"Train Prediction","v":77.2},{"c":63,"s":"Train Prediction","v":75.9},{"c":64,"s":"Train Prediction","v":76.7},
      {"c":65,"s":"Train Prediction","v":75.3},{"c":66,"s":"Train Prediction","v":75.3},{"c":67,"s":"Train Prediction","v":76.1},
      {"c":69,"s":"Train Prediction","v":74.4},{"c":71,"s":"Train Prediction","v":75},{"c":73,"s":"Train Prediction","v":73.8},
      {"c":74,"s":"Train Prediction","v":73.9},{"c":76,"s":"Train Prediction","v":73.5},{"c":77,"s":"Train Prediction","v":72.3},
      {"c":78,"s":"Train Prediction","v":74.4},{"c":80,"s":"Train Prediction","v":74.1},{"c":81,"s":"Train Prediction","v":73},
      {"c":82,"s":"Train Prediction","v":73.3},{"c":83,"s":"Train Prediction","v":72.8},{"c":84,"s":"Train Prediction","v":73.1},
      {"c":85,"s":"Train Prediction","v":73.3},{"c":87,"s":"Train Prediction","v":71.9},{"c":89,"s":"Train Prediction","v":73.1},
      {"c":90,"s":"Train Prediction","v":75.5},{"c":91,"s":"Train Prediction","v":75.1},{"c":93,"s":"Train Prediction","v":72.1},
      {"c":94,"s":"Train Prediction","v":72.9},{"c":97,"s":"Train Prediction","v":70.7},{"c":98,"s":"Train Prediction","v":71.5},
      {"c":99,"s":"Train Prediction","v":70.7},{"c":100,"s":"Train Prediction","v":71.1},
      {"c":100,"s":"Test Prediction","v":71.1},{"c":102,"s":"Test Prediction","v":69.1},{"c":103,"s":"Test Prediction","v":71.9},
      {"c":104,"s":"Test Prediction","v":70.5},{"c":106,"s":"Test Prediction","v":70.4},{"c":107,"s":"Test Prediction","v":68.5},
      {"c":109,"s":"Test Prediction","v":68.7},{"c":111,"s":"Test Prediction","v":68.8},{"c":113,"s":"Test Prediction","v":66.9},
      {"c":115,"s":"Test Prediction","v":67.3},{"c":116,"s":"Test Prediction","v":65.8},{"c":117,"s":"Test Prediction","v":66.9},
      {"c":119,"s":"Test Prediction","v":67.9},{"c":121,"s":"Test Prediction","v":67.3},{"c":122,"s":"Test Prediction","v":66.3},
      {"c":124,"s":"Test Prediction","v":67.3},{"c":125,"s":"Test Prediction","v":65.3},{"c":127,"s":"Test Prediction","v":64.7},
      {"c":128,"s":"Test Prediction","v":65.5},{"c":129,"s":"Test Prediction","v":64.1},{"c":130,"s":"Test Prediction","v":64.3},
      {"c":131,"s":"Test Prediction","v":63.7},{"c":133,"s":"Test Prediction","v":65.3},{"c":135,"s":"Test Prediction","v":64.5},
      {"c":137,"s":"Test Prediction","v":62.55},{"c":140,"s":"Test Prediction","v":63.95},{"c":141,"s":"Test Prediction","v":62.15},
      {"c":142,"s":"Test Prediction","v":63.15},{"c":144,"s":"Test Prediction","v":61.1},{"c":146,"s":"Test Prediction","v":62.3},
      {"c":147,"s":"Test Prediction","v":60.75},{"c":149,"s":"Test Prediction","v":59.95},{"c":151,"s":"Test Prediction","v":61.4},
      {"c":152,"s":"Test Prediction","v":59.55},{"c":154,"s":"Test Prediction","v":59.35},{"c":155,"s":"Test Prediction","v":58.75},
      {"c":158,"s":"Test Prediction","v":58.35},{"c":160,"s":"Test Prediction","v":58.15},{"c":161,"s":"Test Prediction","v":58.55},
      {"c":162,"s":"Test Prediction","v":65.1},{"c":163,"s":"Test Prediction","v":58.75},{"c":165,"s":"Test Prediction","v":57.95},
      {"c":166,"s":"Test Prediction","v":56.95}
    ],
    "b7": [
      {"c":0,"s":"Train Actual","v":100,"lo5":95,"hi5":105,"lo2":98,"hi2":102},
      {"c":1,"s":"Train Actual","v":99.5,"lo5":94.5,"hi5":104.5,"lo2":97.5,"hi2":101.5},
      {"c":4,"s":"Train Actual","v":99.4,"lo5":94.4,"hi5":104.4,"lo2":97.4,"hi2":101.4},
      {"c":7,"s":"Train Actual","v":99.5,"lo5":94.5,"hi5":104.5,"lo2":97.5,"hi2":101.5},
      {"c":8,"s":"Train Actual","v":98.9,"lo5":94,"hi5":103.8,"lo2":96.9,"hi2":100.9},
      {"c":10,"s":"Train Actual","v":98.9,"lo5":94,"hi5":103.8,"lo2":96.9,"hi2":100.9},
      {"c":11,"s":"Train Actual","v":98.5,"lo5":93.6,"hi5":103.4,"lo2":96.5,"hi2":100.5},
      {"c":15,"s":"Train Actual","v":98.4,"lo5":93.5,"hi5":103.3,"lo2":96.4,"hi2":100.4},
      {"c":16,"s":"Train Actual","v":97.8,"lo5":92.9,"hi5":102.7,"lo2":95.8,"hi2":99.8},
      {"c":18,"s":"Train Actual","v":97.9,"lo5":93,"hi5":102.8,"lo2":95.9,"hi2":99.9},
      {"c":19,"s":"Train Actual","v":99.5,"lo5":94.5,"hi5":104.5,"lo2":97.5,"hi2":101.5},
      {"c":21,"s":"Train Actual","v":99.6,"lo5":94.6,"hi5":104.6,"lo2":97.6,"hi2":101.6},
      {"c":23,"s":"Train Actual","v":98.9,"lo5":94,"hi5":103.8,"lo2":96.9,"hi2":100.9},
      {"c":24,"s":"Train Actual","v":98.8,"lo5":93.9,"hi5":103.7,"lo2":96.8,"hi2":100.8},
      {"c":25,"s":"Train Actual","v":98.3,"lo5":93.4,"hi5":103.2,"lo2":96.3,"hi2":100.3},
      {"c":27,"s":"Train Actual","v":98.3,"lo5":93.4,"hi5":103.2,"lo2":96.3,"hi2":100.3},
      {"c":28,"s":"Train Actual","v":97.7,"lo5":92.8,"hi5":102.6,"lo2":95.7,"hi2":99.7},
      {"c":29,"s":"Train Actual","v":97.8,"lo5":92.9,"hi5":102.7,"lo2":95.8,"hi2":99.8},
      {"c":30,"s":"Train Actual","v":99.6,"lo5":94.6,"hi5":104.6,"lo2":97.6,"hi2":101.6},
      {"c":31,"s":"Train Actual","v":98.1,"lo5":93.2,"hi5":103,"lo2":96.1,"hi2":100.1},
      {"c":33,"s":"Train Actual","v":97.5,"lo5":92.6,"hi5":102.4,"lo2":95.6,"hi2":99.5},
      {"c":34,"s":"Train Actual","v":97.1,"lo5":92.2,"hi5":102,"lo2":95.2,"hi2":99},
      {"c":36,"s":"Train Actual","v":97.1,"lo5":92.2,"hi5":102,"lo2":95.2,"hi2":99},
      {"c":37,"s":"Train Actual","v":96.3,"lo5":91.5,"hi5":101.1,"lo2":94.4,"hi2":98.2},
      {"c":39,"s":"Train Actual","v":95.9,"lo5":91.1,"hi5":100.7,"lo2":94,"hi2":97.8},
      {"c":40,"s":"Train Actual","v":95.9,"lo5":91.1,"hi5":100.7,"lo2":94,"hi2":97.8},
      {"c":42,"s":"Train Actual","v":95.4,"lo5":90.6,"hi5":100.2,"lo2":93.5,"hi2":97.3},
      {"c":44,"s":"Train Actual","v":94.7,"lo5":90,"hi5":99.4,"lo2":92.8,"hi2":96.6},
      {"c":45,"s":"Train Actual","v":94.4,"lo5":89.7,"hi5":99.1,"lo2":92.5,"hi2":96.3},
      {"c":46,"s":"Train Actual","v":94.3,"lo5":89.6,"hi5":99,"lo2":92.4,"hi2":96.2},
      {"c":48,"s":"Train Actual","v":96.1,"lo5":91.3,"hi5":100.9,"lo2":94.2,"hi2":98},
      {"c":50,"s":"Train Actual","v":95.1,"lo5":90.3,"hi5":99.9,"lo2":93.2,"hi2":97},
      {"c":51,"s":"Train Actual","v":94.3,"lo5":89.6,"hi5":99,"lo2":92.4,"hi2":96.2},
      {"c":53,"s":"Train Actual","v":93.7,"lo5":89,"hi5":98.4,"lo2":91.8,"hi2":95.6},
      {"c":55,"s":"Train Actual","v":92.6,"lo5":88,"hi5":97.2,"lo2":90.7,"hi2":94.5},
      {"c":58,"s":"Train Actual","v":92.1,"lo5":87.5,"hi5":96.7,"lo2":90.3,"hi2":93.9},
      {"c":59,"s":"Train Actual","v":91.7,"lo5":87.1,"hi5":96.3,"lo2":89.9,"hi2":93.5},
      {"c":61,"s":"Train Actual","v":90.7,"lo5":86.2,"hi5":95.2,"lo2":88.9,"hi2":92.5},
      {"c":62,"s":"Train Actual","v":90.6,"lo5":86.1,"hi5":95.1,"lo2":88.8,"hi2":92.4},
      {"c":63,"s":"Train Actual","v":90.1,"lo5":85.6,"hi5":94.6,"lo2":88.3,"hi2":91.9},
      {"c":64,"s":"Train Actual","v":89.9,"lo5":85.4,"hi5":94.4,"lo2":88.1,"hi2":91.7},
      {"c":66,"s":"Train Actual","v":89.3,"lo5":84.8,"hi5":93.8,"lo2":87.5,"hi2":91.1},
      {"c":69,"s":"Train Actual","v":88.6,"lo5":84.2,"hi5":93,"lo2":86.8,"hi2":90.4},
      {"c":71,"s":"Train Actual","v":87.9,"lo5":83.5,"hi5":92.3,"lo2":86.1,"hi2":89.7},
      {"c":74,"s":"Train Actual","v":87.3,"lo5":82.9,"hi5":91.7,"lo2":85.6,"hi2":89},
      {"c":75,"s":"Train Actual","v":86.5,"lo5":82.2,"hi5":90.8,"lo2":84.8,"hi2":88.2},
      {"c":77,"s":"Train Actual","v":86.7,"lo5":82.4,"hi5":91,"lo2":85,"hi2":88.4},
      {"c":79,"s":"Train Actual","v":85.7,"lo5":81.4,"hi5":90,"lo2":84,"hi2":87.4},
      {"c":80,"s":"Train Actual","v":85.5,"lo5":81.2,"hi5":89.8,"lo2":83.8,"hi2":87.2},
      {"c":82,"s":"Train Actual","v":85.5,"lo5":81.2,"hi5":89.8,"lo2":83.8,"hi2":87.2},
      {"c":84,"s":"Train Actual","v":84.9,"lo5":80.7,"hi5":89.1,"lo2":83.2,"hi2":86.6},
      {"c":85,"s":"Train Actual","v":84.4,"lo5":80.2,"hi5":88.6,"lo2":82.7,"hi2":86.1},
      {"c":87,"s":"Train Actual","v":84.3,"lo5":80.1,"hi5":88.5,"lo2":82.6,"hi2":86},
      {"c":88,"s":"Train Actual","v":89.3,"lo5":84.8,"hi5":93.8,"lo2":87.5,"hi2":91.1},
      {"c":89,"s":"Train Actual","v":85.9,"lo5":81.6,"hi5":90.2,"lo2":84.2,"hi2":87.6},
      {"c":91,"s":"Train Actual","v":84.9,"lo5":80.7,"hi5":89.1,"lo2":83.2,"hi2":86.6},
      {"c":93,"s":"Train Actual","v":84.1,"lo5":79.9,"hi5":88.3,"lo2":82.4,"hi2":85.8},
      {"c":96,"s":"Train Actual","v":83.5,"lo5":79.3,"hi5":87.7,"lo2":81.8,"hi2":85.2},
      {"c":97,"s":"Train Actual","v":83.1,"lo5":78.9,"hi5":87.3,"lo2":81.4,"hi2":84.8},
      {"c":100,"s":"Train Actual","v":82.7},
      {"c":100,"s":"Test Actual","v":82.7,"lo5":78.6,"hi5":86.8,"lo2":81,"hi2":84.4},
      {"c":102,"s":"Test Actual","v":83.3,"lo5":79.1,"hi5":87.5,"lo2":81.6,"hi2":85},
      {"c":103,"s":"Test Actual","v":82.6,"lo5":78.5,"hi5":86.7,"lo2":80.9,"hi2":84.3},
      {"c":105,"s":"Test Actual","v":82,"lo5":77.9,"hi5":86.1,"lo2":80.4,"hi2":83.6},
      {"c":108,"s":"Test Actual","v":81.8,"lo5":77.7,"hi5":85.9,"lo2":80.2,"hi2":83.4},
      {"c":110,"s":"Test Actual","v":81,"lo5":77,"hi5":85.1,"lo2":79.4,"hi2":82.6},
      {"c":112,"s":"Test Actual","v":80.8,"lo5":76.8,"hi5":84.8,"lo2":79.2,"hi2":82.4},
      {"c":115,"s":"Test Actual","v":80.2,"lo5":76.2,"hi5":84.2,"lo2":78.6,"hi2":81.8},
      {"c":117,"s":"Test Actual","v":80.1,"lo5":76.1,"hi5":84.1,"lo2":78.5,"hi2":81.7},
      {"c":118,"s":"Test Actual","v":81.2,"lo5":77.1,"hi5":85.3,"lo2":79.6,"hi2":82.8},
      {"c":119,"s":"Test Actual","v":81.4,"lo5":77.3,"hi5":85.5,"lo2":79.8,"hi2":83},
      {"c":120,"s":"Test Actual","v":80.2,"lo5":76.2,"hi5":84.2,"lo2":78.6,"hi2":81.8},
      {"c":123,"s":"Test Actual","v":79.4,"lo5":75.4,"hi5":83.4,"lo2":77.8,"hi2":81},
      {"c":125,"s":"Test Actual","v":78.9,"lo5":75,"hi5":82.8,"lo2":77.3,"hi2":80.5},
      {"c":128,"s":"Test Actual","v":78.5,"lo5":74.6,"hi5":82.4,"lo2":76.9,"hi2":80.1},
      {"c":130,"s":"Test Actual","v":78.1,"lo5":74.2,"hi5":82,"lo2":76.5,"hi2":79.7},
      {"c":131,"s":"Test Actual","v":78.6,"lo5":74.7,"hi5":82.5,"lo2":77,"hi2":80.2},
      {"c":132,"s":"Test Actual","v":79.2,"lo5":75.2,"hi5":83.2,"lo2":77.6,"hi2":80.8},
      {"c":133,"s":"Test Actual","v":78.4,"lo5":74.5,"hi5":82.3,"lo2":76.8,"hi2":80},
      {"c":135,"s":"Test Actual","v":77.9,"lo5":74,"hi5":81.8,"lo2":76.3,"hi2":79.5},
      {"c":138,"s":"Test Actual","v":77.3,"lo5":73.4,"hi5":81.2,"lo2":75.8,"hi2":78.8},
      {"c":140,"s":"Test Actual","v":76.8,"lo5":73,"hi5":80.6,"lo2":75.3,"hi2":78.3},
      {"c":142,"s":"Test Actual","v":76.6,"lo5":72.8,"hi5":80.4,"lo2":75.1,"hi2":78.1},
      {"c":145,"s":"Test Actual","v":76,"lo5":72.2,"hi5":79.8,"lo2":74.5,"hi2":77.5},
      {"c":147,"s":"Test Actual","v":76,"lo5":72.2,"hi5":79.8,"lo2":74.5,"hi2":77.5},
      {"c":148,"s":"Test Actual","v":76.6,"lo5":72.8,"hi5":80.4,"lo2":75.1,"hi2":78.1},
      {"c":149,"s":"Test Actual","v":77.5,"lo5":73.6,"hi5":81.4,"lo2":76,"hi2":79.1},
      {"c":151,"s":"Test Actual","v":76.7,"lo5":72.9,"hi5":80.5,"lo2":75.2,"hi2":78.2},
      {"c":153,"s":"Test Actual","v":75.8,"lo5":72,"hi5":79.6,"lo2":74.3,"hi2":77.3},
      {"c":155,"s":"Test Actual","v":75.5,"lo5":71.7,"hi5":79.3,"lo2":74,"hi2":77},
      {"c":158,"s":"Test Actual","v":75,"lo5":71.3,"hi5":78.8,"lo2":73.5,"hi2":76.5},
      {"c":160,"s":"Test Actual","v":74.6,"lo5":70.9,"hi5":78.3,"lo2":73.1,"hi2":76.1},
      {"c":163,"s":"Test Actual","v":74.4,"lo5":70.7,"hi5":78.1,"lo2":72.9,"hi2":75.9},
      {"c":164,"s":"Test Actual","v":74,"lo5":70.3,"hi5":77.7,"lo2":72.5,"hi2":75.5},
      {"c":165,"s":"Test Actual","v":75.4,"lo5":71.6,"hi5":79.2,"lo2":73.9,"hi2":76.9},
      {"c":166,"s":"Test Actual","v":75.9,"lo5":72.1,"hi5":79.7,"lo2":74.4,"hi2":77.4},
      {"c":0,"s":"Train Prediction","v":97.8},{"c":1,"s":"Train Prediction","v":98.5},{"c":2,"s":"Train Prediction","v":98.2},
      {"c":3,"s":"Train Prediction","v":98.5},{"c":4,"s":"Train Prediction","v":98.6},{"c":5,"s":"Train Prediction","v":97.9},
      {"c":7,"s":"Train Prediction","v":98.5},{"c":9,"s":"Train Prediction","v":98.3},{"c":10,"s":"Train Prediction","v":98.4},
      {"c":11,"s":"Train Prediction","v":98.2},{"c":12,"s":"Train Prediction","v":98.5},{"c":13,"s":"Train Prediction","v":98.2},
      {"c":14,"s":"Train Prediction","v":98.5},{"c":16,"s":"Train Prediction","v":98.1},{"c":17,"s":"Train Prediction","v":98.3},
      {"c":19,"s":"Train Prediction","v":98.3},{"c":20,"s":"Train Prediction","v":99.7},{"c":21,"s":"Train Prediction","v":99.7},
      {"c":22,"s":"Train Prediction","v":99},{"c":24,"s":"Train Prediction","v":99},{"c":25,"s":"Train Prediction","v":98.4},
      {"c":28,"s":"Train Prediction","v":98.4},{"c":29,"s":"Train Prediction","v":98.7},{"c":30,"s":"Train Prediction","v":97.7},
      {"c":31,"s":"Train Prediction","v":98.9},{"c":32,"s":"Train Prediction","v":98.7},{"c":34,"s":"Train Prediction","v":97.5},
      {"c":35,"s":"Train Prediction","v":97.5},{"c":37,"s":"Train Prediction","v":97.8},{"c":39,"s":"Train Prediction","v":96.4},
      {"c":40,"s":"Train Prediction","v":96.8},{"c":41,"s":"Train Prediction","v":96.8},{"c":42,"s":"Train Prediction","v":95.5},
      {"c":43,"s":"Train Prediction","v":96.2},{"c":45,"s":"Train Prediction","v":95.1},{"c":46,"s":"Train Prediction","v":94.7},
      {"c":47,"s":"Train Prediction","v":93.9},{"c":48,"s":"Train Prediction","v":98.5},{"c":49,"s":"Train Prediction","v":97.9},
      {"c":50,"s":"Train Prediction","v":95.8},{"c":51,"s":"Train Prediction","v":95.3},{"c":53,"s":"Train Prediction","v":94.3},
      {"c":55,"s":"Train Prediction","v":92.4},{"c":56,"s":"Train Prediction","v":92.1},{"c":59,"s":"Train Prediction","v":91.9},
      {"c":60,"s":"Train Prediction","v":90.3},{"c":61,"s":"Train Prediction","v":89.8},{"c":62,"s":"Train Prediction","v":89.6},
      {"c":63,"s":"Train Prediction","v":88.9},{"c":65,"s":"Train Prediction","v":89.3},{"c":66,"s":"Train Prediction","v":88.1},
      {"c":67,"s":"Train Prediction","v":87.9},{"c":69,"s":"Train Prediction","v":87.3},{"c":71,"s":"Train Prediction","v":87.3},
      {"c":72,"s":"Train Prediction","v":86.6},{"c":74,"s":"Train Prediction","v":86.3},{"c":75,"s":"Train Prediction","v":85.8},
      {"c":77,"s":"Train Prediction","v":85.5},{"c":79,"s":"Train Prediction","v":84.9},{"c":81,"s":"Train Prediction","v":84.6},
      {"c":82,"s":"Train Prediction","v":84.9},{"c":84,"s":"Train Prediction","v":84.5},{"c":85,"s":"Train Prediction","v":84},
      {"c":86,"s":"Train Prediction","v":83.1},{"c":88,"s":"Train Prediction","v":83.5},{"c":90,"s":"Train Prediction","v":85.7},
      {"c":91,"s":"Train Prediction","v":85.1},{"c":94,"s":"Train Prediction","v":83.3},{"c":96,"s":"Train Prediction","v":82.9},
      {"c":99,"s":"Train Prediction","v":82.35},{"c":100,"s":"Train Prediction","v":82.5},
      {"c":100,"s":"Test Prediction","v":82.5},{"c":101,"s":"Test Prediction","v":82.2},{"c":103,"s":"Test Prediction","v":83.1},
      {"c":105,"s":"Test Prediction","v":81.7},{"c":106,"s":"Test Prediction","v":81.8},{"c":107,"s":"Test Prediction","v":81},
      {"c":108,"s":"Test Prediction","v":81.3},{"c":110,"s":"Test Prediction","v":80.6},{"c":111,"s":"Test Prediction","v":81.2},
      {"c":112,"s":"Test Prediction","v":80.5},{"c":113,"s":"Test Prediction","v":80.8},{"c":115,"s":"Test Prediction","v":80.5},
      {"c":116,"s":"Test Prediction","v":80.2},{"c":118,"s":"Test Prediction","v":80.6},{"c":119,"s":"Test Prediction","v":81.2},
      {"c":121,"s":"Test Prediction","v":81},{"c":123,"s":"Test Prediction","v":80},{"c":124,"s":"Test Prediction","v":79.9},
      {"c":126,"s":"Test Prediction","v":79.2},{"c":128,"s":"Test Prediction","v":79.2},{"c":130,"s":"Test Prediction","v":78.9},
      {"c":131,"s":"Test Prediction","v":78.6},{"c":133,"s":"Test Prediction","v":80},{"c":135,"s":"Test Prediction","v":78.8},
      {"c":137,"s":"Test Prediction","v":78.4},{"c":139,"s":"Test Prediction","v":78.2},{"c":141,"s":"Test Prediction","v":77.7},
      {"c":142,"s":"Test Prediction","v":77.7},{"c":146,"s":"Test Prediction","v":77.3},{"c":147,"s":"Test Prediction","v":77.4},
      {"c":149,"s":"Test Prediction","v":78},{"c":151,"s":"Test Prediction","v":77.7},{"c":153,"s":"Test Prediction","v":77.7},
      {"c":156,"s":"Test Prediction","v":77.2},{"c":158,"s":"Test Prediction","v":77.45},{"c":160,"s":"Test Prediction","v":77.2},
      {"c":162,"s":"Test Prediction","v":77.3},{"c":163,"s":"Test Prediction","v":76.9},{"c":165,"s":"Test Prediction","v":76.8},
      {"c":166,"s":"Test Prediction","v":77.2}
    ],
    "b18": [
      {"c":0,"s":"Train Actual","v":100,"lo5":95,"hi5":105,"lo2":98,"hi2":102},
      {"c":1,"s":"Train Actual","v":99.4,"lo5":94.4,"hi5":104.4,"lo2":97.4,"hi2":101.4},
      {"c":2,"s":"Train Actual","v":99.3,"lo5":94.3,"hi5":104.3,"lo2":97.3,"hi2":101.3},
      {"c":3,"s":"Train Actual","v":98.7,"lo5":93.8,"hi5":103.6,"lo2":96.7,"hi2":100.7},
      {"c":4,"s":"Train Actual","v":98.8,"lo5":93.9,"hi5":103.7,"lo2":96.8,"hi2":100.8},
      {"c":5,"s":"Train Actual","v":98.6,"lo5":93.7,"hi5":103.5,"lo2":96.6,"hi2":100.6},
      {"c":7,"s":"Train Actual","v":97.8,"lo5":92.9,"hi5":102.7,"lo2":95.8,"hi2":99.8},
      {"c":8,"s":"Train Actual","v":97.2,"lo5":92.3,"hi5":102.1,"lo2":95.3,"hi2":99.1},
      {"c":9,"s":"Train Actual","v":98.2,"lo5":93.3,"hi5":103.1,"lo2":96.2,"hi2":100.2},
      {"c":10,"s":"Train Actual","v":97.8,"lo5":92.9,"hi5":102.7,"lo2":95.8,"hi2":99.8},
      {"c":11,"s":"Train Actual","v":97.3,"lo5":92.4,"hi5":102.2,"lo2":95.4,"hi2":99.2},
      {"c":12,"s":"Train Actual","v":96.4,"lo5":91.6,"hi5":101.2,"lo2":94.5,"hi2":98.3},
      {"c":14,"s":"Train Actual","v":96,"lo5":91.2,"hi5":100.8,"lo2":94.1,"hi2":97.9},
      {"c":15,"s":"Train Actual","v":95.4,"lo5":90.6,"hi5":100.2,"lo2":93.5,"hi2":97.3},
      {"c":16,"s":"Train Actual","v":95.2,"lo5":90.4,"hi5":100,"lo2":93.3,"hi2":97.1},
      {"c":18,"s":"Train Actual","v":94.3,"lo5":89.6,"hi5":99,"lo2":92.4,"hi2":96.2},
      {"c":19,"s":"Train Actual","v":93.7,"lo5":89,"hi5":98.4,"lo2":91.8,"hi2":95.6},
      {"c":20,"s":"Train Actual","v":93.2,"lo5":88.5,"hi5":97.9,"lo2":91.3,"hi2":95.1},
      {"c":21,"s":"Train Actual","v":92.1,"lo5":87.5,"hi5":96.7,"lo2":90.3,"hi2":93.9},
      {"c":23,"s":"Train Actual","v":92.1,"lo5":87.5,"hi5":96.7,"lo2":90.3,"hi2":93.9},
      {"c":24,"s":"Train Actual","v":94.3,"lo5":89.6,"hi5":99,"lo2":92.4,"hi2":96.2},
      {"c":25,"s":"Train Actual","v":93.2,"lo5":88.5,"hi5":97.9,"lo2":91.3,"hi2":95.1},
      {"c":27,"s":"Train Actual","v":92.5,"lo5":87.9,"hi5":97.1,"lo2":90.7,"hi2":94.4},
      {"c":28,"s":"Train Actual","v":91.5,"lo5":86.9,"hi5":96.1,"lo2":89.7,"hi2":93.3},
      {"c":30,"s":"Train Actual","v":90.9,"lo5":86.4,"hi5":95.4,"lo2":89.1,"hi2":92.7},
      {"c":31,"s":"Train Actual","v":90.5,"lo5":86,"hi5":95,"lo2":88.7,"hi2":92.3},
      {"c":32,"s":"Train Actual","v":89.7,"lo5":85.2,"hi5":94.2,"lo2":87.9,"hi2":91.5},
      {"c":34,"s":"Train Actual","v":89.1,"lo5":84.6,"hi5":93.6,"lo2":87.3,"hi2":90.9},
      {"c":35,"s":"Train Actual","v":88.1,"lo5":83.7,"hi5":92.5,"lo2":86.3,"hi2":89.9},
      {"c":36,"s":"Train Actual","v":87.5,"lo5":83.1,"hi5":91.9,"lo2":85.8,"hi2":89.3},
      {"c":38,"s":"Train Actual","v":87.1,"lo5":82.7,"hi5":91.5,"lo2":85.4,"hi2":88.8},
      {"c":39,"s":"Train Actual","v":90.3,"lo5":85.8,"hi5":94.8,"lo2":88.5,"hi2":92.1},
      {"c":40,"s":"Train Actual","v":88.9,"lo5":84.5,"hi5":93.3,"lo2":87.1,"hi2":90.7},
      {"c":42,"s":"Train Actual","v":87.7,"lo5":83.3,"hi5":92.1,"lo2":85.9,"hi2":89.5},
      {"c":43,"s":"Train Actual","v":86.9,"lo5":82.6,"hi5":91.2,"lo2":85.2,"hi2":88.6},
      {"c":44,"s":"Train Actual","v":86.1,"lo5":81.8,"hi5":90.4,"lo2":84.4,"hi2":87.8},
      {"c":45,"s":"Train Actual","v":93.1,"lo5":88.4,"hi5":97.8,"lo2":91.2,"hi2":95},
      {"c":46,"s":"Train Actual","v":92.5,"lo5":87.9,"hi5":97.1,"lo2":90.7,"hi2":94.4},
      {"c":48,"s":"Train Actual","v":90.9,"lo5":86.4,"hi5":95.4,"lo2":89.1,"hi2":92.7},
      {"c":49,"s":"Train Actual","v":89.6,"lo5":85.1,"hi5":94.1,"lo2":87.8,"hi2":91.4},
      {"c":50,"s":"Train Actual","v":89.9,"lo5":85.4,"hi5":94.4,"lo2":88.1,"hi2":91.7},
      {"c":51,"s":"Train Actual","v":88.5,"lo5":84.1,"hi5":92.9,"lo2":86.7,"hi2":90.3},
      {"c":53,"s":"Train Actual","v":87.1,"lo5":82.7,"hi5":91.5,"lo2":85.4,"hi2":88.8},
      {"c":54,"s":"Train Actual","v":86.5,"lo5":82.2,"hi5":90.8,"lo2":84.8,"hi2":88.2},
      {"c":55,"s":"Train Actual","v":90.1,"lo5":85.6,"hi5":94.6,"lo2":88.3,"hi2":91.9},
      {"c":57,"s":"Train Actual","v":87.7,"lo5":83.3,"hi5":92.1,"lo2":85.9,"hi2":89.5},
      {"c":58,"s":"Train Actual","v":85.9,"lo5":81.6,"hi5":90.2,"lo2":84.2,"hi2":87.6},
      {"c":60,"s":"Train Actual","v":85.1,"lo5":80.8,"hi5":89.4,"lo2":83.4,"hi2":86.8},
      {"c":61,"s":"Train Actual","v":84.1,"lo5":79.9,"hi5":88.3,"lo2":82.4,"hi2":85.8},
      {"c":63,"s":"Train Actual","v":83.3,"lo5":79.1,"hi5":87.5,"lo2":81.6,"hi2":85},
      {"c":64,"s":"Train Actual","v":82.7,"lo5":78.6,"hi5":86.8,"lo2":81,"hi2":84.4},
      {"c":65,"s":"Train Actual","v":82.6,"lo5":78.5,"hi5":86.7,"lo2":80.9,"hi2":84.3},
      {"c":66,"s":"Train Actual","v":82.2,"lo5":78.1,"hi5":86.3,"lo2":80.6,"hi2":83.8},
      {"c":67,"s":"Train Actual","v":81.4,"lo5":77.3,"hi5":85.5,"lo2":79.8,"hi2":83},
      {"c":69,"s":"Train Actual","v":80.8,"lo5":76.8,"hi5":84.8,"lo2":79.2,"hi2":82.4},
      {"c":70,"s":"Train Actual","v":82.6,"lo5":78.5,"hi5":86.7,"lo2":80.9,"hi2":84.3},
      {"c":71,"s":"Train Actual","v":82.2,"lo5":78.1,"hi5":86.3,"lo2":80.6,"hi2":83.8},
      {"c":72,"s":"Train Actual","v":80.8,"lo5":76.8,"hi5":84.8,"lo2":79.2,"hi2":82.4},
      {"c":75,"s":"Train Actual","v":80,"lo5":76,"hi5":84,"lo2":78.4,"hi2":81.6},
      {"c":77,"s":"Train Actual","v":79.4,"lo5":75.4,"hi5":83.4,"lo2":77.8,"hi2":81},
      {"c":78,"s":"Train Actual","v":78.5,"lo5":74.6,"hi5":82.4,"lo2":76.9,"hi2":80.1},
      {"c":79,"s":"Test Actual","v":78,"lo5":74.1,"hi5":81.9,"lo2":76.4,"hi2":79.6},
      {"c":80,"s":"Test Actual","v":78.4,"lo5":74.5,"hi5":82.3,"lo2":76.8,"hi2":80},
      {"c":81,"s":"Test Actual","v":77.8,"lo5":73.9,"hi5":81.7,"lo2":76.2,"hi2":79.4},
      {"c":82,"s":"Test Actual","v":77.6,"lo5":73.7,"hi5":81.5,"lo2":76,"hi2":79.2},
      {"c":83,"s":"Test Actual","v":77.1,"lo5":73.2,"hi5":81,"lo2":75.6,"hi2":78.6},
      {"c":84,"s":"Test Actual","v":76.9,"lo5":73.1,"hi5":80.7,"lo2":75.4,"hi2":78.4},
      {"c":85,"s":"Test Actual","v":79.2,"lo5":75.2,"hi5":83.2,"lo2":77.6,"hi2":80.8},
      {"c":86,"s":"Test Actual","v":78.2,"lo5":74.3,"hi5":82.1,"lo2":76.6,"hi2":79.8},
      {"c":88,"s":"Test Actual","v":77.3,"lo5":73.4,"hi5":81.2,"lo2":75.8,"hi2":78.8},
      {"c":89,"s":"Test Actual","v":76.4,"lo5":72.6,"hi5":80.2,"lo2":74.9,"hi2":77.9},
      {"c":90,"s":"Test Actual","v":78.4,"lo5":74.5,"hi5":82.3,"lo2":76.8,"hi2":80},
      {"c":91,"s":"Test Actual","v":76.8,"lo5":73,"hi5":80.6,"lo2":75.3,"hi2":78.3},
      {"c":93,"s":"Test Actual","v":76.4,"lo5":72.6,"hi5":80.2,"lo2":74.9,"hi2":77.9},
      {"c":95,"s":"Test Actual","v":76,"lo5":72.2,"hi5":79.8,"lo2":74.5,"hi2":77.5},
      {"c":96,"s":"Test Actual","v":75.3,"lo5":71.5,"hi5":79.1,"lo2":73.8,"hi2":76.8},
      {"c":98,"s":"Test Actual","v":75,"lo5":71.3,"hi5":78.8,"lo2":73.5,"hi2":76.5},
      {"c":99,"s":"Test Actual","v":74.4,"lo5":70.7,"hi5":78.1,"lo2":72.9,"hi2":75.9},
      {"c":100,"s":"Test Actual","v":74.7,"lo5":71,"hi5":78.4,"lo2":73.2,"hi2":76.2},
      {"c":101,"s":"Test Actual","v":74,"lo5":70.3,"hi5":77.7,"lo2":72.5,"hi2":75.5},
      {"c":102,"s":"Test Actual","v":74.1,"lo5":70.4,"hi5":77.8,"lo2":72.6,"hi2":75.6},
      {"c":103,"s":"Test Actual","v":73.9,"lo5":70.2,"hi5":77.6,"lo2":72.4,"hi2":75.4},
      {"c":104,"s":"Test Actual","v":73.2,"lo5":69.5,"hi5":76.9,"lo2":71.7,"hi2":74.7},
      {"c":105,"s":"Test Actual","v":78.8,"lo5":74.9,"hi5":82.7,"lo2":77.2,"hi2":80.4},
      {"c":106,"s":"Test Actual","v":78.1,"lo5":74.2,"hi5":82,"lo2":76.5,"hi2":79.7},
      {"c":108,"s":"Test Actual","v":77.2,"lo5":73.3,"hi5":81.1,"lo2":75.7,"hi2":78.7},
      {"c":109,"s":"Test Actual","v":76.1,"lo5":72.3,"hi5":79.9,"lo2":74.6,"hi2":77.6},
      {"c":111,"s":"Test Actual","v":75.3,"lo5":71.5,"hi5":79.1,"lo2":73.8,"hi2":76.8},
      {"c":114,"s":"Test Actual","v":74.8,"lo5":71.1,"hi5":78.5,"lo2":73.3,"hi2":76.3},
      {"c":115,"s":"Test Actual","v":74.5,"lo5":70.8,"hi5":78.2,"lo2":73,"hi2":76},
      {"c":117,"s":"Test Actual","v":73.8,"lo5":70.1,"hi5":77.5,"lo2":72.3,"hi2":75.3},
      {"c":118,"s":"Test Actual","v":73.5,"lo5":69.8,"hi5":77.2,"lo2":72,"hi2":75},
      {"c":119,"s":"Test Actual","v":72.6,"lo5":69,"hi5":76.2,"lo2":71.1,"hi2":74.1},
      {"c":120,"s":"Test Actual","v":77,"lo5":73.2,"hi5":80.9,"lo2":75.5,"hi2":78.5},
      {"c":121,"s":"Test Actual","v":75.6,"lo5":71.8,"hi5":79.4,"lo2":74.1,"hi2":77.1},
      {"c":123,"s":"Test Actual","v":75,"lo5":71.3,"hi5":78.8,"lo2":73.5,"hi2":76.5},
      {"c":124,"s":"Test Actual","v":73.8,"lo5":70.1,"hi5":77.5,"lo2":72.3,"hi2":75.3},
      {"c":126,"s":"Test Actual","v":74,"lo5":70.3,"hi5":77.7,"lo2":72.5,"hi2":75.5},
      {"c":127,"s":"Test Actual","v":73.5,"lo5":69.8,"hi5":77.2,"lo2":72,"hi2":75},
      {"c":128,"s":"Test Actual","v":73.5,"lo5":69.8,"hi5":77.2,"lo2":72,"hi2":75},
      {"c":129,"s":"Test Actual","v":72.8,"lo5":69.2,"hi5":76.4,"lo2":71.3,"hi2":74.3},
      {"c":130,"s":"Test Actual","v":73.1,"lo5":69.4,"hi5":76.8,"lo2":71.6,"hi2":74.6},
      {"c":132,"s":"Test Actual","v":72.2,"lo5":68.6,"hi5":75.8,"lo2":70.8,"hi2":73.6},
      {"c":0,"s":"Train Prediction","v":107.85},{"c":1,"s":"Train Prediction","v":101.7},{"c":2,"s":"Train Prediction","v":100.5},
      {"c":3,"s":"Train Prediction","v":100.2},{"c":4,"s":"Train Prediction","v":99.9},{"c":5,"s":"Train Prediction","v":99.9},
      {"c":6,"s":"Train Prediction","v":99.1},{"c":7,"s":"Train Prediction","v":98.4},{"c":9,"s":"Train Prediction","v":98.1},
      {"c":10,"s":"Train Prediction","v":99},{"c":11,"s":"Train Prediction","v":98.7},{"c":12,"s":"Train Prediction","v":97.4},
      {"c":13,"s":"Train Prediction","v":96.9},{"c":14,"s":"Train Prediction","v":98},{"c":15,"s":"Train Prediction","v":96.6},
      {"c":16,"s":"Train Prediction","v":96.6},{"c":17,"s":"Train Prediction","v":96},{"c":18,"s":"Train Prediction","v":94.8},
      {"c":19,"s":"Train Prediction","v":95.3},{"c":20,"s":"Train Prediction","v":93.3},{"c":21,"s":"Train Prediction","v":92.8},
      {"c":22,"s":"Train Prediction","v":92.1},{"c":23,"s":"Train Prediction","v":91.8},{"c":24,"s":"Train Prediction","v":92.5},
      {"c":25,"s":"Train Prediction","v":93.2},{"c":26,"s":"Train Prediction","v":93.2},{"c":27,"s":"Train Prediction","v":92.9},
      {"c":28,"s":"Train Prediction","v":91.7},{"c":29,"s":"Train Prediction","v":92.2},{"c":30,"s":"Train Prediction","v":90.5},
      {"c":31,"s":"Train Prediction","v":90.3},{"c":32,"s":"Train Prediction","v":89.7},{"c":33,"s":"Train Prediction","v":89.2},
      {"c":34,"s":"Train Prediction","v":89.7},{"c":35,"s":"Train Prediction","v":88.3},{"c":36,"s":"Train Prediction","v":87.1},
      {"c":38,"s":"Train Prediction","v":86.1},{"c":39,"s":"Train Prediction","v":89.6},{"c":40,"s":"Train Prediction","v":89.3},
      {"c":41,"s":"Train Prediction","v":88.3},{"c":42,"s":"Train Prediction","v":87.5},{"c":43,"s":"Train Prediction","v":85.7},
      {"c":44,"s":"Train Prediction","v":84.7},{"c":45,"s":"Train Prediction","v":90.7},{"c":46,"s":"Train Prediction","v":91.5},
      {"c":47,"s":"Train Prediction","v":89.7},{"c":48,"s":"Train Prediction","v":89.2},{"c":49,"s":"Train Prediction","v":88.3},
      {"c":50,"s":"Train Prediction","v":88.7},{"c":51,"s":"Train Prediction","v":87.5},{"c":52,"s":"Train Prediction","v":88.1},
      {"c":53,"s":"Train Prediction","v":85.7},{"c":54,"s":"Train Prediction","v":85.7},{"c":55,"s":"Train Prediction","v":85.7},
      {"c":56,"s":"Train Prediction","v":87.7},{"c":57,"s":"Train Prediction","v":85.9},{"c":58,"s":"Train Prediction","v":84.2},
      {"c":59,"s":"Train Prediction","v":83.9},{"c":60,"s":"Train Prediction","v":83.6},{"c":61,"s":"Train Prediction","v":82.55},
      {"c":62,"s":"Train Prediction","v":82.15},{"c":63,"s":"Train Prediction","v":81.3},{"c":64,"s":"Train Prediction","v":80.2},
      {"c":65,"s":"Train Prediction","v":80.7},{"c":66,"s":"Train Prediction","v":80},{"c":67,"s":"Train Prediction","v":79.6},
      {"c":68,"s":"Train Prediction","v":79},{"c":69,"s":"Train Prediction","v":79},{"c":70,"s":"Train Prediction","v":80.6},
      {"c":71,"s":"Train Prediction","v":81.8},{"c":73,"s":"Train Prediction","v":80.2},{"c":74,"s":"Train Prediction","v":78.8},
      {"c":75,"s":"Train Prediction","v":77.4},{"c":76,"s":"Train Prediction","v":77.7},{"c":77,"s":"Train Prediction","v":77.7},
      {"c":78,"s":"Train Prediction","v":76.9},
      {"c":79,"s":"Test Prediction","v":76.4},{"c":80,"s":"Test Prediction","v":75.5},{"c":81,"s":"Test Prediction","v":75.8},
      {"c":82,"s":"Test Prediction","v":75.3},{"c":84,"s":"Test Prediction","v":75.3},{"c":85,"s":"Test Prediction","v":76.8},
      {"c":86,"s":"Test Prediction","v":79.4},{"c":87,"s":"Test Prediction","v":77.8},{"c":88,"s":"Test Prediction","v":77.3},
      {"c":89,"s":"Test Prediction","v":76},{"c":90,"s":"Test Prediction","v":75.6},{"c":91,"s":"Test Prediction","v":77.2},
      {"c":92,"s":"Test Prediction","v":76.6},{"c":94,"s":"Test Prediction","v":76.2},{"c":95,"s":"Test Prediction","v":74.4},
      {"c":96,"s":"Test Prediction","v":75.1},{"c":98,"s":"Test Prediction","v":73.6},{"c":99,"s":"Test Prediction","v":73.9},
      {"c":101,"s":"Test Prediction","v":73.3},{"c":102,"s":"Test Prediction","v":72.7},{"c":103,"s":"Test Prediction","v":73.6},
      {"c":105,"s":"Test Prediction","v":74.2},{"c":106,"s":"Test Prediction","v":79.4},{"c":108,"s":"Test Prediction","v":78.9},
      {"c":110,"s":"Test Prediction","v":75.5},{"c":111,"s":"Test Prediction","v":76.5},{"c":112,"s":"Test Prediction","v":75.4},
      {"c":114,"s":"Test Prediction","v":76.4},{"c":115,"s":"Test Prediction","v":74},{"c":116,"s":"Test Prediction","v":75.2},
      {"c":117,"s":"Test Prediction","v":73.6},{"c":118,"s":"Test Prediction","v":74},{"c":119,"s":"Test Prediction","v":73.2},
      {"c":120,"s":"Test Prediction","v":74.4},{"c":121,"s":"Test Prediction","v":76.6},{"c":123,"s":"Test Prediction","v":76.1},
      {"c":124,"s":"Test Prediction","v":74.6},{"c":125,"s":"Test Prediction","v":73.4},{"c":127,"s":"Test Prediction","v":75},
      {"c":129,"s":"Test Prediction","v":73.2},{"c":130,"s":"Test Prediction","v":74},{"c":132,"s":"Test Prediction","v":73.5}
    ]
  },
  "spacing": 119,
  "resolve": {"scale": {"color": "independent", "x": "independent", "y": "independent"}, "legend": {"color": "independent"}},
  "vconcat": [
    {
      "spacing": 112,
      "resolve": {"scale": {"color": "independent", "x": "independent", "y": "independent"}, "legend": {"color": "independent"}},
      "hconcat": [
        {
          "title": {"text": "(a) Battery 5", "orient": "bottom", "font": "Liberation Serif", "fontSize": 59, "fontWeight": "normal", "anchor": "middle", "offset": 68},
          "resolve": {"scale": {"color": "independent"}, "legend": {"color": "independent"}},
          "vconcat": [
            {
              "width": 1765, "height": 998,
              "title": {"text": "Experiment I - B5"},
              "data": {"name": "b5"},
              "layer": [
                {"data": {"values": [{"x0": 100, "x1": 167}]}, "mark": {"type": "rect", "color": "#fffee4"},
                 "encoding": {"x": {"field": "x0", "type": "quantitative", "scale": {"domain": [-5, 172], "nice": false, "zero": false}, "axis": {"title": "Cycle Index"}}, "x2": {"field": "x1"},
                   "y": {"datum": 50, "type": "quantitative", "scale": {"domain": [50, 110], "nice": false, "zero": false}, "axis": {"title": "SOH (%)"}}, "y2": {"datum": 110}}},
                {"transform": [{"filter": "isValid(datum.lo5)"}], "mark": {"type": "area", "color": "#808080", "opacity": 0.2},
                 "encoding": {"x": {"field": "c", "type": "quantitative", "axis": {"title": "Cycle Index"}}, "y": {"field": "lo5", "type": "quantitative", "axis": {"title": "SOH (%)"}}, "y2": {"field": "hi5"}}},
                {"transform": [{"filter": "isValid(datum.lo2)"}], "mark": {"type": "area", "color": "#808080", "opacity": 0.4},
                 "encoding": {"x": {"field": "c", "type": "quantitative", "axis": {"title": "Cycle Index"}}, "y": {"field": "lo2", "type": "quantitative", "axis": {"title": "SOH (%)"}}, "y2": {"field": "hi2"}}},
                {"data": {"name": "gx"}, "mark": {"type": "rule", "color": "#b0b0b0", "strokeWidth": 3},
                 "encoding": {"x": {"field": "g", "type": "quantitative", "axis": {"title": "Cycle Index"}}, "y": {"datum": 50, "type": "quantitative", "axis": {"title": "SOH (%)"}}, "y2": {"datum": 110}}},
                {"data": {"name": "gy"}, "mark": {"type": "rule", "color": "#b0b0b0", "strokeWidth": 3},
                 "encoding": {"y": {"field": "g", "type": "quantitative", "axis": {"title": "SOH (%)"}}, "x": {"datum": -5, "type": "quantitative", "axis": {"title": "Cycle Index"}}, "x2": {"datum": 172}}},
                {"mark": {"type": "line", "strokeWidth": 9.5, "strokeJoin": "round"},
                 "encoding": {
                   "x": {"field": "c", "type": "quantitative", "axis": {"values": [0, 20, 40, 60, 80, 100, 120, 140, 160], "title": "Cycle Index", "titlePadding": 8}},
                   "y": {"field": "v", "type": "quantitative", "axis": {"values": [50, 60, 70, 80, 90, 100, 110], "title": "SOH (%)", "titlePadding": 18}},
                   "color": {"field": "s", "type": "nominal",
                     "scale": {"domain": ["±5% Error Band", "±2% Error Band", "Train Actual", "Test Actual", "Train Prediction", "Test Prediction"], "range": ["#e5e5e2", "#cbcbc8", "#000080", "#0000ff", "#8b0000", "#ff0000"]},
                     "legend": {"title": null, "symbolType": "M-10,0H10", "symbolSize": 56.25, "symbolStrokeWidth": 0, "symbolOffset": 7, "labelOffset": 41, "labelLimit": 800,
                       "encode": {"symbols": {"update": {"strokeWidth": {"value": 0},
                         "shape": {"signal": "indexof('' + (datum.value || datum), 'Band') >= 0 ? 'M-10,-3.67H10V3.67H-10Z' : 'M-10,-1.33H10V1.33H-10Z'"},
                         "fill": {"signal": "datum.value == '±5% Error Band' ? '#e5e5e2' : datum.value == '±2% Error Band' ? '#cbcbc8' : datum.value == 'Train Actual' ? '#000080' : datum.value == 'Test Actual' ? '#0000ff' : datum.value == 'Train Prediction' ? '#8b0000' : '#ff0000'"}}}}}}
                 }}
              ]
            }
          ]
        },
        {
          "title": {"text": "(b) Battery 6", "orient": "bottom", "font": "Liberation Serif", "fontSize": 59, "fontWeight": "normal", "anchor": "middle", "offset": 68},
          "resolve": {"scale": {"color": "independent"}, "legend": {"color": "independent"}},
          "vconcat": [
            {
              "width": 1765, "height": 998,
              "title": {"text": "Experiment I - B6"},
              "data": {"name": "b6"},
              "layer": [
                {"data": {"values": [{"x0": 100, "x1": 167}]}, "mark": {"type": "rect", "color": "#fffee4"},
                 "encoding": {"x": {"field": "x0", "type": "quantitative", "scale": {"domain": [-5, 172], "nice": false, "zero": false}, "axis": {"title": "Cycle Index"}}, "x2": {"field": "x1"},
                   "y": {"datum": 50, "type": "quantitative", "scale": {"domain": [50, 110], "nice": false, "zero": false}, "axis": {"title": "SOH (%)"}}, "y2": {"datum": 110}}},
                {"transform": [{"filter": "isValid(datum.lo5)"}], "mark": {"type": "area", "color": "#808080", "opacity": 0.2},
                 "encoding": {"x": {"field": "c", "type": "quantitative", "axis": {"title": "Cycle Index"}}, "y": {"field": "lo5", "type": "quantitative", "axis": {"title": "SOH (%)"}}, "y2": {"field": "hi5"}}},
                {"transform": [{"filter": "isValid(datum.lo2)"}], "mark": {"type": "area", "color": "#808080", "opacity": 0.4},
                 "encoding": {"x": {"field": "c", "type": "quantitative", "axis": {"title": "Cycle Index"}}, "y": {"field": "lo2", "type": "quantitative", "axis": {"title": "SOH (%)"}}, "y2": {"field": "hi2"}}},
                {"data": {"name": "gx"}, "mark": {"type": "rule", "color": "#b0b0b0", "strokeWidth": 3},
                 "encoding": {"x": {"field": "g", "type": "quantitative", "axis": {"title": "Cycle Index"}}, "y": {"datum": 50, "type": "quantitative", "axis": {"title": "SOH (%)"}}, "y2": {"datum": 110}}},
                {"data": {"name": "gy"}, "mark": {"type": "rule", "color": "#b0b0b0", "strokeWidth": 3},
                 "encoding": {"y": {"field": "g", "type": "quantitative", "axis": {"title": "SOH (%)"}}, "x": {"datum": -5, "type": "quantitative", "axis": {"title": "Cycle Index"}}, "x2": {"datum": 172}}},
                {"mark": {"type": "line", "strokeWidth": 9.5, "strokeJoin": "round"},
                 "encoding": {
                   "x": {"field": "c", "type": "quantitative", "axis": {"values": [0, 20, 40, 60, 80, 100, 120, 140, 160], "title": "Cycle Index", "titlePadding": 8}},
                   "y": {"field": "v", "type": "quantitative", "axis": {"values": [50, 60, 70, 80, 90, 100, 110], "title": "SOH (%)", "titlePadding": 18}},
                   "color": {"field": "s", "type": "nominal",
                     "scale": {"domain": ["±5% Error Band", "±2% Error Band", "Train Actual", "Test Actual", "Train Prediction", "Test Prediction"], "range": ["#e5e5e2", "#cbcbc8", "#000080", "#0000ff", "#8b0000", "#ff0000"]},
                     "legend": {"title": null, "symbolType": "M-10,0H10", "symbolSize": 56.25, "symbolStrokeWidth": 0, "symbolOffset": 7, "labelOffset": 41, "labelLimit": 800,
                       "encode": {"symbols": {"update": {"strokeWidth": {"value": 0},
                         "shape": {"signal": "indexof('' + (datum.value || datum), 'Band') >= 0 ? 'M-10,-3.67H10V3.67H-10Z' : 'M-10,-1.33H10V1.33H-10Z'"},
                         "fill": {"signal": "datum.value == '±5% Error Band' ? '#e5e5e2' : datum.value == '±2% Error Band' ? '#cbcbc8' : datum.value == 'Train Actual' ? '#000080' : datum.value == 'Test Actual' ? '#0000ff' : datum.value == 'Train Prediction' ? '#8b0000' : '#ff0000'"}}}}}}
                 }}
              ]
            }
          ]
        }
      ]
    },
    {
      "spacing": 112,
      "resolve": {"scale": {"color": "independent", "x": "independent", "y": "independent"}, "legend": {"color": "independent"}},
      "hconcat": [
        {
          "title": {"text": "(c) Battery 7", "orient": "bottom", "font": "Liberation Serif", "fontSize": 59, "fontWeight": "normal", "anchor": "middle", "offset": 68},
          "resolve": {"scale": {"color": "independent"}, "legend": {"color": "independent"}},
          "vconcat": [
            {
              "width": 1765, "height": 998,
              "title": {"text": "Experiment I - B7"},
              "data": {"name": "b7"},
              "layer": [
                {"data": {"values": [{"x0": 100, "x1": 167}]}, "mark": {"type": "rect", "color": "#fffee4"},
                 "encoding": {"x": {"field": "x0", "type": "quantitative", "scale": {"domain": [-5, 172], "nice": false, "zero": false}, "axis": {"title": "Cycle Index"}}, "x2": {"field": "x1"},
                   "y": {"datum": 50, "type": "quantitative", "scale": {"domain": [50, 110], "nice": false, "zero": false}, "axis": {"title": "SOH (%)"}}, "y2": {"datum": 110}}},
                {"transform": [{"filter": "isValid(datum.lo5)"}], "mark": {"type": "area", "color": "#808080", "opacity": 0.2},
                 "encoding": {"x": {"field": "c", "type": "quantitative", "axis": {"title": "Cycle Index"}}, "y": {"field": "lo5", "type": "quantitative", "axis": {"title": "SOH (%)"}}, "y2": {"field": "hi5"}}},
                {"transform": [{"filter": "isValid(datum.lo2)"}], "mark": {"type": "area", "color": "#808080", "opacity": 0.4},
                 "encoding": {"x": {"field": "c", "type": "quantitative", "axis": {"title": "Cycle Index"}}, "y": {"field": "lo2", "type": "quantitative", "axis": {"title": "SOH (%)"}}, "y2": {"field": "hi2"}}},
                {"data": {"name": "gx"}, "mark": {"type": "rule", "color": "#b0b0b0", "strokeWidth": 3},
                 "encoding": {"x": {"field": "g", "type": "quantitative", "axis": {"title": "Cycle Index"}}, "y": {"datum": 50, "type": "quantitative", "axis": {"title": "SOH (%)"}}, "y2": {"datum": 110}}},
                {"data": {"name": "gy"}, "mark": {"type": "rule", "color": "#b0b0b0", "strokeWidth": 3},
                 "encoding": {"y": {"field": "g", "type": "quantitative", "axis": {"title": "SOH (%)"}}, "x": {"datum": -5, "type": "quantitative", "axis": {"title": "Cycle Index"}}, "x2": {"datum": 172}}},
                {"mark": {"type": "line", "strokeWidth": 9.5, "strokeJoin": "round"},
                 "encoding": {
                   "x": {"field": "c", "type": "quantitative", "axis": {"values": [0, 20, 40, 60, 80, 100, 120, 140, 160], "title": "Cycle Index", "titlePadding": 8}},
                   "y": {"field": "v", "type": "quantitative", "axis": {"values": [50, 60, 70, 80, 90, 100, 110], "title": "SOH (%)", "titlePadding": 18}},
                   "color": {"field": "s", "type": "nominal",
                     "scale": {"domain": ["±5% Error Band", "±2% Error Band", "Train Actual", "Test Actual", "Train Prediction", "Test Prediction"], "range": ["#e5e5e2", "#cbcbc8", "#000080", "#0000ff", "#8b0000", "#ff0000"]},
                     "legend": {"title": null, "symbolType": "M-10,0H10", "symbolSize": 56.25, "symbolStrokeWidth": 0, "symbolOffset": 7, "labelOffset": 41, "labelLimit": 800,
                       "encode": {"symbols": {"update": {"strokeWidth": {"value": 0},
                         "shape": {"signal": "indexof('' + (datum.value || datum), 'Band') >= 0 ? 'M-10,-3.67H10V3.67H-10Z' : 'M-10,-1.33H10V1.33H-10Z'"},
                         "fill": {"signal": "datum.value == '±5% Error Band' ? '#e5e5e2' : datum.value == '±2% Error Band' ? '#cbcbc8' : datum.value == 'Train Actual' ? '#000080' : datum.value == 'Test Actual' ? '#0000ff' : datum.value == 'Train Prediction' ? '#8b0000' : '#ff0000'"}}}}}}
                 }}
              ]
            }
          ]
        },
        {
          "title": {"text": "(d) Battery 18", "orient": "bottom", "font": "Liberation Serif", "fontSize": 59, "fontWeight": "normal", "anchor": "middle", "offset": 68},
          "resolve": {"scale": {"color": "independent"}, "legend": {"color": "independent"}},
          "vconcat": [
            {
              "width": 1765, "height": 998,
              "title": {"text": "Experiment I - B18"},
              "data": {"name": "b18"},
              "layer": [
                {"data": {"values": [{"x0": 79, "x1": 132}]}, "mark": {"type": "rect", "color": "#fffee4"},
                 "encoding": {"x": {"field": "x0", "type": "quantitative", "scale": {"domain": [-5, 137], "nice": false, "zero": false}, "axis": {"title": "Cycle Index"}}, "x2": {"field": "x1"},
                   "y": {"datum": 50, "type": "quantitative", "scale": {"domain": [50, 110], "nice": false, "zero": false}, "axis": {"title": "SOH (%)"}}, "y2": {"datum": 110}}},
                {"transform": [{"filter": "isValid(datum.lo5)"}], "mark": {"type": "area", "color": "#808080", "opacity": 0.2},
                 "encoding": {"x": {"field": "c", "type": "quantitative", "axis": {"title": "Cycle Index"}}, "y": {"field": "lo5", "type": "quantitative", "axis": {"title": "SOH (%)"}}, "y2": {"field": "hi5"}}},
                {"transform": [{"filter": "isValid(datum.lo2)"}], "mark": {"type": "area", "color": "#808080", "opacity": 0.4},
                 "encoding": {"x": {"field": "c", "type": "quantitative", "axis": {"title": "Cycle Index"}}, "y": {"field": "lo2", "type": "quantitative", "axis": {"title": "SOH (%)"}}, "y2": {"field": "hi2"}}},
                {"data": {"name": "gx18"}, "mark": {"type": "rule", "color": "#b0b0b0", "strokeWidth": 3},
                 "encoding": {"x": {"field": "g", "type": "quantitative", "axis": {"title": "Cycle Index"}}, "y": {"datum": 50, "type": "quantitative", "axis": {"title": "SOH (%)"}}, "y2": {"datum": 110}}},
                {"data": {"name": "gy"}, "mark": {"type": "rule", "color": "#b0b0b0", "strokeWidth": 3},
                 "encoding": {"y": {"field": "g", "type": "quantitative", "axis": {"title": "SOH (%)"}}, "x": {"datum": -5, "type": "quantitative", "axis": {"title": "Cycle Index"}}, "x2": {"datum": 137}}},
                {"mark": {"type": "line", "strokeWidth": 9.5, "strokeJoin": "round"},
                 "encoding": {
                   "x": {"field": "c", "type": "quantitative", "axis": {"values": [0, 20, 40, 60, 80, 100, 120], "title": "Cycle Index", "titlePadding": 8}},
                   "y": {"field": "v", "type": "quantitative", "axis": {"values": [50, 60, 70, 80, 90, 100, 110], "title": "SOH (%)", "titlePadding": 18}},
                   "color": {"field": "s", "type": "nominal",
                     "scale": {"domain": ["±5% Error Band", "±2% Error Band", "Train Actual", "Test Actual", "Train Prediction", "Test Prediction"], "range": ["#e5e5e2", "#cbcbc8", "#000080", "#0000ff", "#8b0000", "#ff0000"]},
                     "legend": {"title": null, "symbolType": "M-10,0H10", "symbolSize": 56.25, "symbolStrokeWidth": 0, "symbolOffset": 7, "labelOffset": 41, "labelLimit": 800,
                       "encode": {"symbols": {"update": {"strokeWidth": {"value": 0},
                         "shape": {"signal": "indexof('' + (datum.value || datum), 'Band') >= 0 ? 'M-10,-3.67H10V3.67H-10Z' : 'M-10,-1.33H10V1.33H-10Z'"},
                         "fill": {"signal": "datum.value == '±5% Error Band' ? '#e5e5e2' : datum.value == '±2% Error Band' ? '#cbcbc8' : datum.value == 'Train Actual' ? '#000080' : datum.value == 'Test Actual' ? '#0000ff' : datum.value == 'Train Prediction' ? '#8b0000' : '#ff0000'"}}}}}}
                 }}
              ]
            }
          ]
        }
      ]
    }
  ]
}
